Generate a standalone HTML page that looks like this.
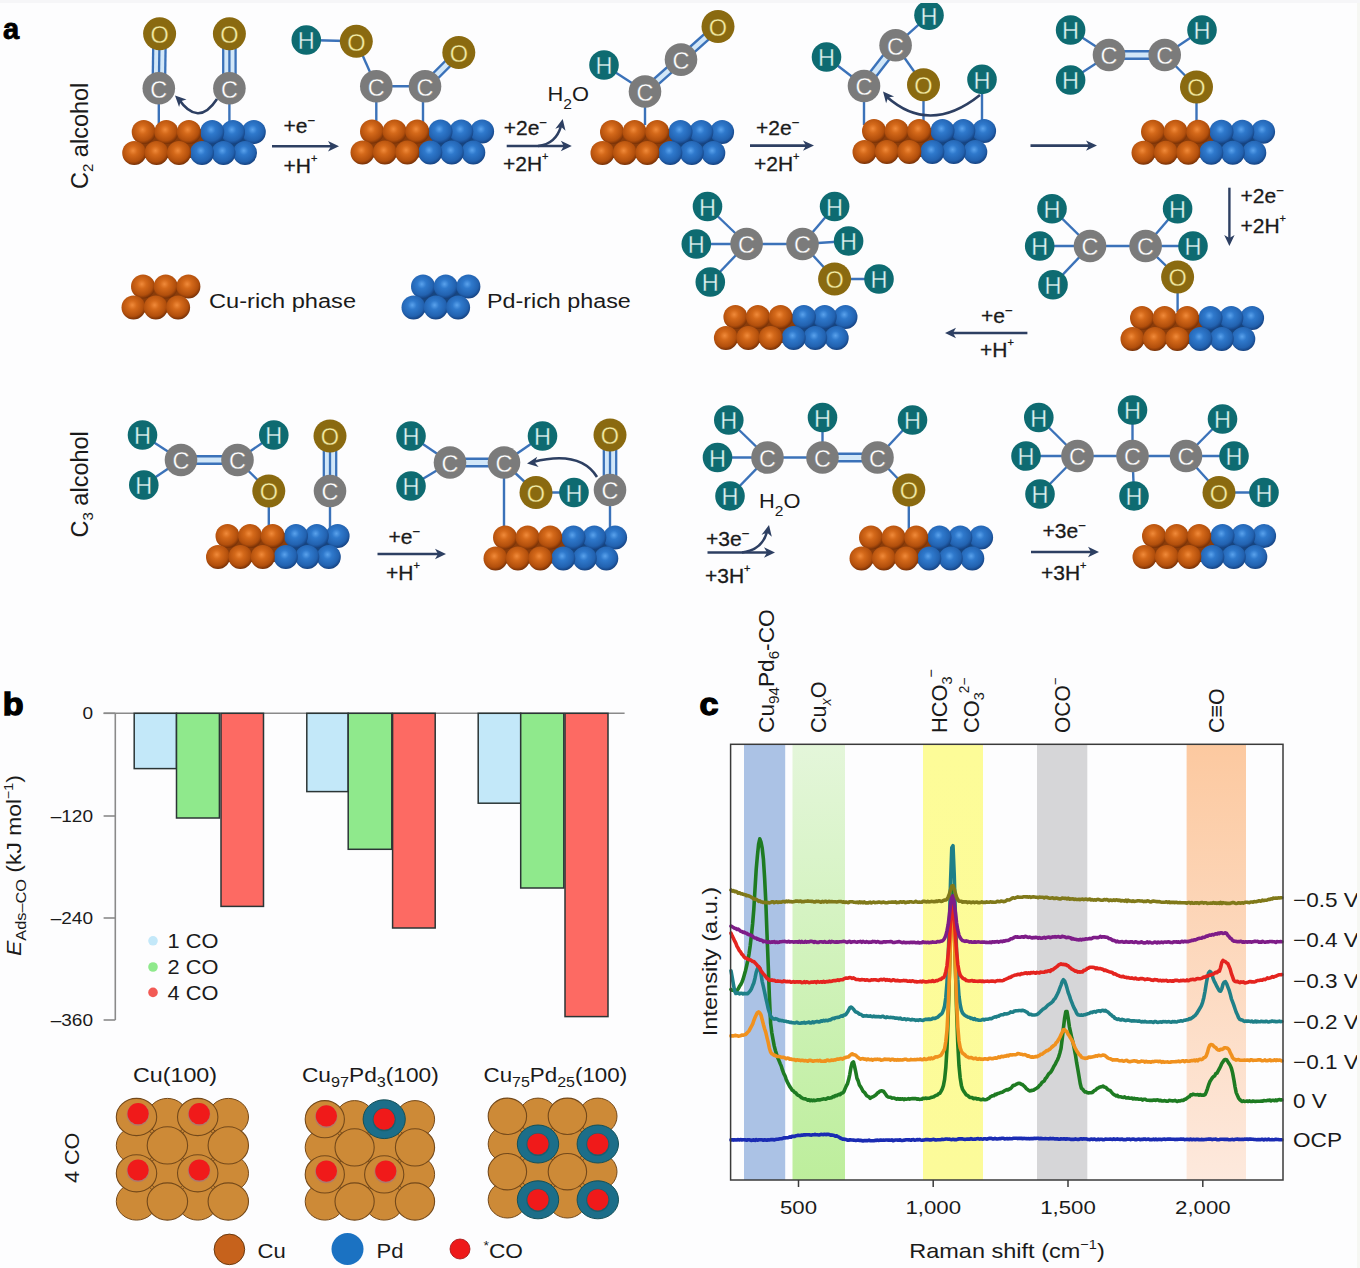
<!DOCTYPE html>
<html><head><meta charset="utf-8"><style>
html,body{margin:0;padding:0;background:#fdfdfe;}
svg{display:block;}
text{font-family:"Liberation Sans", sans-serif;}
</style></head><body>
<svg width="1360" height="1268" viewBox="0 0 1360 1268" font-family='"Liberation Sans", sans-serif'>
<defs><radialGradient id="go" cx="0.45" cy="0.4" r="0.62"><stop offset="0" stop-color="#f08a3a"/><stop offset="0.3" stop-color="#d4691a"/><stop offset="0.75" stop-color="#b24f0c"/><stop offset="1" stop-color="#6e2c06"/></radialGradient><radialGradient id="gb" cx="0.45" cy="0.4" r="0.62"><stop offset="0" stop-color="#5aa2ec"/><stop offset="0.3" stop-color="#2f79cc"/><stop offset="0.75" stop-color="#2262b0"/><stop offset="1" stop-color="#133d7a"/></radialGradient></defs>
<rect width="1360" height="1268" fill="#fdfdfe"/>
<text transform="translate(3.0,38.8) scale(0.97,1)" font-size="30" font-weight="bold" fill="#000" stroke="#000" stroke-width="0.8">a</text>
<text transform="translate(87.5,189) rotate(-90)" font-size="23.5" fill="#1a1a1a">C<tspan font-size="15" dy="5">2</tspan><tspan dy="-5"> alcohol</tspan></text>
<text transform="translate(87.5,537.5) rotate(-90)" font-size="23.5" fill="#1a1a1a">C<tspan font-size="15" dy="5">3</tspan><tspan dy="-5"> alcohol</tspan></text>
<line x1="159.6" y1="33.8" x2="158.8" y2="88.2" stroke="#d2e7f8" stroke-width="12.4"/>
<line x1="165.8" y1="33.9" x2="165.0" y2="88.3" stroke="#3b72b9" stroke-width="2.3"/>
<line x1="159.6" y1="33.8" x2="158.8" y2="88.2" stroke="#3b72b9" stroke-width="2.3"/>
<line x1="153.4" y1="33.7" x2="152.6" y2="88.1" stroke="#3b72b9" stroke-width="2.3"/>
<line x1="229.4" y1="33.8" x2="229.4" y2="88.2" stroke="#d2e7f8" stroke-width="12.4"/>
<line x1="235.6" y1="33.8" x2="235.6" y2="88.2" stroke="#3b72b9" stroke-width="2.3"/>
<line x1="229.4" y1="33.8" x2="229.4" y2="88.2" stroke="#3b72b9" stroke-width="2.3"/>
<line x1="223.2" y1="33.8" x2="223.2" y2="88.2" stroke="#3b72b9" stroke-width="2.3"/>
<line x1="158.8" y1="88.0" x2="158.8" y2="125.0" stroke="#3b72b9" stroke-width="2.4"/>
<line x1="229.4" y1="88.0" x2="229.4" y2="125.0" stroke="#3b72b9" stroke-width="2.4"/>
<polygon points="143.7,129.0 212.2,129.0 202.0,158.0 134.2,158.0" fill="#8a3c0a"/>
<polygon points="208.2,129.0 253.8,129.0 245.0,158.0 198.0,158.0" fill="#17457f"/>
<circle cx="253.8" cy="132.0" r="12.0" fill="url(#gb)"/>
<circle cx="233.0" cy="132.0" r="12.0" fill="url(#gb)"/>
<circle cx="212.2" cy="132.0" r="12.0" fill="url(#gb)"/>
<circle cx="143.7" cy="132.0" r="12.0" fill="url(#go)"/>
<circle cx="166.3" cy="132.0" r="12.0" fill="url(#go)"/>
<circle cx="188.9" cy="132.0" r="12.0" fill="url(#go)"/>
<circle cx="245.0" cy="153.0" r="12.0" fill="url(#gb)"/>
<circle cx="223.5" cy="153.0" r="12.0" fill="url(#gb)"/>
<circle cx="202.0" cy="153.0" r="12.0" fill="url(#gb)"/>
<circle cx="134.2" cy="153.0" r="12.0" fill="url(#go)"/>
<circle cx="156.6" cy="153.0" r="12.0" fill="url(#go)"/>
<circle cx="179.0" cy="153.0" r="12.0" fill="url(#go)"/>
<circle cx="159.6" cy="33.8" r="16.5" fill="#8a6a10"/>
<text x="159.6" y="43.2" font-size="23.5" fill="#f4eca4" stroke="#8a6a10" stroke-width="0.35" text-anchor="middle">O</text>
<circle cx="229.4" cy="33.8" r="16.5" fill="#8a6a10"/>
<text x="229.4" y="43.2" font-size="23.5" fill="#f4eca4" stroke="#8a6a10" stroke-width="0.35" text-anchor="middle">O</text>
<circle cx="158.8" cy="88.2" r="16.3" fill="#7b7b7b"/>
<text x="158.8" y="97.6" font-size="23.5" fill="#ffffff" stroke="#7b7b7b" stroke-width="0.35" text-anchor="middle">C</text>
<circle cx="229.4" cy="88.2" r="16.3" fill="#7b7b7b"/>
<text x="229.4" y="97.6" font-size="23.5" fill="#ffffff" stroke="#7b7b7b" stroke-width="0.35" text-anchor="middle">C</text>
<path d="M217,99 Q198,128 178,98" fill="none" stroke="#2d3f62" stroke-width="2.6"/>
<polygon points="175.0,95.5 186.5,99.6 180.7,101.2 179.1,107.0" fill="#2d3f62"/>
<line x1="272.0" y1="146.2" x2="333.0" y2="146.2" stroke="#2d3f62" stroke-width="2.6"/>
<polygon points="339.0,146.2 328.0,151.4 331.0,146.2 328.0,141.0" fill="#2d3f62"/>
<text transform="translate(283.5,132.7)" font-size="21" fill="#1a1a1a" text-anchor="start" stroke="#1a1a1a" stroke-width="0.3">+e<tspan font-size="13" dy="-8">−</tspan></text>
<text transform="translate(283.5,172.8)" font-size="21" fill="#1a1a1a" text-anchor="start" stroke="#1a1a1a" stroke-width="0.3">+H<tspan font-size="11" dy="-11">+</tspan></text>
<line x1="306.3" y1="40.0" x2="356.3" y2="41.3" stroke="#3b72b9" stroke-width="2.4"/>
<line x1="356.3" y1="41.3" x2="376.3" y2="86.3" stroke="#3b72b9" stroke-width="2.4"/>
<line x1="376.3" y1="86.3" x2="425.0" y2="86.3" stroke="#3b72b9" stroke-width="2.4"/>
<line x1="425.0" y1="86.3" x2="458.8" y2="52.5" stroke="#d2e7f8" stroke-width="7"/>
<line x1="422.5" y1="83.8" x2="456.3" y2="50.0" stroke="#3b72b9" stroke-width="2.4"/>
<line x1="427.5" y1="88.8" x2="461.3" y2="55.0" stroke="#3b72b9" stroke-width="2.4"/>
<line x1="376.3" y1="86.0" x2="376.3" y2="125.0" stroke="#3b72b9" stroke-width="2.4"/>
<line x1="423.0" y1="86.0" x2="423.0" y2="125.0" stroke="#3b72b9" stroke-width="2.4"/>
<polygon points="372.0,128.5 440.5,128.5 430.3,157.5 362.5,157.5" fill="#8a3c0a"/>
<polygon points="436.5,128.5 482.1,128.5 473.3,157.5 426.3,157.5" fill="#17457f"/>
<circle cx="482.1" cy="131.5" r="12.0" fill="url(#gb)"/>
<circle cx="461.3" cy="131.5" r="12.0" fill="url(#gb)"/>
<circle cx="440.5" cy="131.5" r="12.0" fill="url(#gb)"/>
<circle cx="372.0" cy="131.5" r="12.0" fill="url(#go)"/>
<circle cx="394.6" cy="131.5" r="12.0" fill="url(#go)"/>
<circle cx="417.2" cy="131.5" r="12.0" fill="url(#go)"/>
<circle cx="473.3" cy="152.5" r="12.0" fill="url(#gb)"/>
<circle cx="451.8" cy="152.5" r="12.0" fill="url(#gb)"/>
<circle cx="430.3" cy="152.5" r="12.0" fill="url(#gb)"/>
<circle cx="362.5" cy="152.5" r="12.0" fill="url(#go)"/>
<circle cx="384.9" cy="152.5" r="12.0" fill="url(#go)"/>
<circle cx="407.3" cy="152.5" r="12.0" fill="url(#go)"/>
<circle cx="306.3" cy="40.0" r="14.8" fill="#0e6b71"/>
<text x="306.3" y="49.4" font-size="23.5" fill="#def4f1" stroke="#0e6b71" stroke-width="0.35" text-anchor="middle">H</text>
<circle cx="356.3" cy="41.3" r="16.5" fill="#8a6a10"/>
<text x="356.3" y="50.7" font-size="23.5" fill="#f4eca4" stroke="#8a6a10" stroke-width="0.35" text-anchor="middle">O</text>
<circle cx="376.3" cy="86.3" r="16.3" fill="#7b7b7b"/>
<text x="376.3" y="95.7" font-size="23.5" fill="#ffffff" stroke="#7b7b7b" stroke-width="0.35" text-anchor="middle">C</text>
<circle cx="425.0" cy="86.3" r="16.3" fill="#7b7b7b"/>
<text x="425.0" y="95.7" font-size="23.5" fill="#ffffff" stroke="#7b7b7b" stroke-width="0.35" text-anchor="middle">C</text>
<circle cx="458.8" cy="52.5" r="16.5" fill="#8a6a10"/>
<text x="458.8" y="61.9" font-size="23.5" fill="#f4eca4" stroke="#8a6a10" stroke-width="0.35" text-anchor="middle">O</text>
<line x1="506.7" y1="146.0" x2="565.8" y2="146.0" stroke="#2d3f62" stroke-width="2.6"/>
<polygon points="571.8,146.0 560.8,151.2 563.8,146.0 560.8,140.8" fill="#2d3f62"/>
<path d="M538,146 Q556,144 561,126" fill="none" stroke="#2d3f62" stroke-width="2.6"/>
<polygon points="562.7,119.0 565.5,130.8 561.0,126.8 555.3,128.7" fill="#2d3f62"/>
<text transform="translate(503.7,134.7)" font-size="21" fill="#1a1a1a" text-anchor="start" stroke="#1a1a1a" stroke-width="0.3">+2e<tspan font-size="13" dy="-8">−</tspan></text>
<text transform="translate(503.0,171.0)" font-size="21" fill="#1a1a1a" text-anchor="start" stroke="#1a1a1a" stroke-width="0.3">+2H<tspan font-size="11" dy="-11">+</tspan></text>
<text transform="translate(547.5,101.0) scale(1.040,1)" font-size="21" fill="#1a1a1a" text-anchor="start" >H<tspan font-size="15" dy="8">2</tspan><tspan dy="-8">O</tspan></text>
<line x1="604.0" y1="65.0" x2="645.0" y2="91.5" stroke="#3b72b9" stroke-width="2.4"/>
<line x1="645.0" y1="91.5" x2="681.0" y2="59.6" stroke="#d2e7f8" stroke-width="7"/>
<line x1="642.7" y1="88.9" x2="678.7" y2="57.0" stroke="#3b72b9" stroke-width="2.4"/>
<line x1="647.3" y1="94.1" x2="683.3" y2="62.2" stroke="#3b72b9" stroke-width="2.4"/>
<line x1="681.0" y1="59.6" x2="718.0" y2="26.5" stroke="#d2e7f8" stroke-width="7"/>
<line x1="678.7" y1="57.0" x2="715.7" y2="23.9" stroke="#3b72b9" stroke-width="2.4"/>
<line x1="683.3" y1="62.2" x2="720.3" y2="29.1" stroke="#3b72b9" stroke-width="2.4"/>
<line x1="645.0" y1="91.0" x2="645.0" y2="125.0" stroke="#3b72b9" stroke-width="2.4"/>
<polygon points="612.0,129.0 680.5,129.0 670.3,158.0 602.5,158.0" fill="#8a3c0a"/>
<polygon points="676.5,129.0 722.1,129.0 713.3,158.0 666.3,158.0" fill="#17457f"/>
<circle cx="722.1" cy="132.0" r="12.0" fill="url(#gb)"/>
<circle cx="701.3" cy="132.0" r="12.0" fill="url(#gb)"/>
<circle cx="680.5" cy="132.0" r="12.0" fill="url(#gb)"/>
<circle cx="612.0" cy="132.0" r="12.0" fill="url(#go)"/>
<circle cx="634.6" cy="132.0" r="12.0" fill="url(#go)"/>
<circle cx="657.2" cy="132.0" r="12.0" fill="url(#go)"/>
<circle cx="713.3" cy="153.0" r="12.0" fill="url(#gb)"/>
<circle cx="691.8" cy="153.0" r="12.0" fill="url(#gb)"/>
<circle cx="670.3" cy="153.0" r="12.0" fill="url(#gb)"/>
<circle cx="602.5" cy="153.0" r="12.0" fill="url(#go)"/>
<circle cx="624.9" cy="153.0" r="12.0" fill="url(#go)"/>
<circle cx="647.3" cy="153.0" r="12.0" fill="url(#go)"/>
<circle cx="604.0" cy="65.0" r="14.8" fill="#0e6b71"/>
<text x="604.0" y="74.4" font-size="23.5" fill="#def4f1" stroke="#0e6b71" stroke-width="0.35" text-anchor="middle">H</text>
<circle cx="645.0" cy="91.5" r="16.3" fill="#7b7b7b"/>
<text x="645.0" y="100.9" font-size="23.5" fill="#ffffff" stroke="#7b7b7b" stroke-width="0.35" text-anchor="middle">C</text>
<circle cx="681.0" cy="59.6" r="16.3" fill="#7b7b7b"/>
<text x="681.0" y="69.0" font-size="23.5" fill="#ffffff" stroke="#7b7b7b" stroke-width="0.35" text-anchor="middle">C</text>
<circle cx="718.0" cy="26.5" r="16.5" fill="#8a6a10"/>
<text x="718.0" y="35.9" font-size="23.5" fill="#f4eca4" stroke="#8a6a10" stroke-width="0.35" text-anchor="middle">O</text>
<line x1="750.0" y1="145.6" x2="808.0" y2="145.6" stroke="#2d3f62" stroke-width="2.6"/>
<polygon points="814.0,145.6 803.0,150.8 806.0,145.6 803.0,140.4" fill="#2d3f62"/>
<text transform="translate(756.0,134.6)" font-size="21" fill="#1a1a1a" text-anchor="start" stroke="#1a1a1a" stroke-width="0.3">+2e<tspan font-size="13" dy="-8">−</tspan></text>
<text transform="translate(754.0,171.0)" font-size="21" fill="#1a1a1a" text-anchor="start" stroke="#1a1a1a" stroke-width="0.3">+2H<tspan font-size="11" dy="-11">+</tspan></text>
<line x1="826.5" y1="57.0" x2="864.0" y2="86.0" stroke="#3b72b9" stroke-width="2.4"/>
<line x1="864.0" y1="86.0" x2="895.6" y2="45.3" stroke="#d2e7f8" stroke-width="7.5"/>
<line x1="861.0" y1="83.7" x2="892.6" y2="43.0" stroke="#3b72b9" stroke-width="2.4"/>
<line x1="867.0" y1="88.3" x2="898.6" y2="47.6" stroke="#3b72b9" stroke-width="2.4"/>
<line x1="895.6" y1="45.3" x2="929.0" y2="15.3" stroke="#3b72b9" stroke-width="2.4"/>
<line x1="895.6" y1="45.3" x2="923.5" y2="84.7" stroke="#3b72b9" stroke-width="2.4"/>
<line x1="864.0" y1="86.0" x2="864.0" y2="125.0" stroke="#3b72b9" stroke-width="2.4"/>
<line x1="923.5" y1="85.0" x2="923.5" y2="125.0" stroke="#3b72b9" stroke-width="2.4"/>
<line x1="982.0" y1="80.0" x2="982.0" y2="125.0" stroke="#3b72b9" stroke-width="2.4"/>
<polygon points="874.0,128.0 942.5,128.0 932.3,157.0 864.5,157.0" fill="#8a3c0a"/>
<polygon points="938.5,128.0 984.1,128.0 975.3,157.0 928.3,157.0" fill="#17457f"/>
<circle cx="984.1" cy="131.0" r="12.0" fill="url(#gb)"/>
<circle cx="963.3" cy="131.0" r="12.0" fill="url(#gb)"/>
<circle cx="942.5" cy="131.0" r="12.0" fill="url(#gb)"/>
<circle cx="874.0" cy="131.0" r="12.0" fill="url(#go)"/>
<circle cx="896.6" cy="131.0" r="12.0" fill="url(#go)"/>
<circle cx="919.2" cy="131.0" r="12.0" fill="url(#go)"/>
<circle cx="975.3" cy="152.0" r="12.0" fill="url(#gb)"/>
<circle cx="953.8" cy="152.0" r="12.0" fill="url(#gb)"/>
<circle cx="932.3" cy="152.0" r="12.0" fill="url(#gb)"/>
<circle cx="864.5" cy="152.0" r="12.0" fill="url(#go)"/>
<circle cx="886.9" cy="152.0" r="12.0" fill="url(#go)"/>
<circle cx="909.3" cy="152.0" r="12.0" fill="url(#go)"/>
<circle cx="826.5" cy="57.0" r="14.8" fill="#0e6b71"/>
<text x="826.5" y="66.4" font-size="23.5" fill="#def4f1" stroke="#0e6b71" stroke-width="0.35" text-anchor="middle">H</text>
<circle cx="864.0" cy="86.0" r="16.3" fill="#7b7b7b"/>
<text x="864.0" y="95.4" font-size="23.5" fill="#ffffff" stroke="#7b7b7b" stroke-width="0.35" text-anchor="middle">C</text>
<circle cx="895.6" cy="45.3" r="16.3" fill="#7b7b7b"/>
<text x="895.6" y="54.7" font-size="23.5" fill="#ffffff" stroke="#7b7b7b" stroke-width="0.35" text-anchor="middle">C</text>
<circle cx="929.0" cy="15.3" r="14.8" fill="#0e6b71"/>
<text x="929.0" y="24.7" font-size="23.5" fill="#def4f1" stroke="#0e6b71" stroke-width="0.35" text-anchor="middle">H</text>
<circle cx="923.5" cy="84.7" r="16.5" fill="#8a6a10"/>
<text x="923.5" y="94.1" font-size="23.5" fill="#f4eca4" stroke="#8a6a10" stroke-width="0.35" text-anchor="middle">O</text>
<circle cx="982.0" cy="79.4" r="14.8" fill="#0e6b71"/>
<text x="982.0" y="88.8" font-size="23.5" fill="#def4f1" stroke="#0e6b71" stroke-width="0.35" text-anchor="middle">H</text>
<path d="M980,95 Q930,135 887,97" fill="none" stroke="#2d3f62" stroke-width="2.6"/>
<polygon points="883.0,91.5 894.1,96.6 888.1,97.6 886.1,103.3" fill="#2d3f62"/>
<line x1="1030.5" y1="145.6" x2="1091.0" y2="145.6" stroke="#2d3f62" stroke-width="2.6"/>
<polygon points="1097.0,145.6 1086.0,150.8 1089.0,145.6 1086.0,140.4" fill="#2d3f62"/>
<line x1="1070.6" y1="30.0" x2="1109.0" y2="55.0" stroke="#3b72b9" stroke-width="2.4"/>
<line x1="1070.6" y1="80.0" x2="1109.0" y2="55.0" stroke="#3b72b9" stroke-width="2.4"/>
<line x1="1109.0" y1="55.0" x2="1164.7" y2="55.0" stroke="#d2e7f8" stroke-width="7.5"/>
<line x1="1109.0" y1="51.2" x2="1164.7" y2="51.2" stroke="#3b72b9" stroke-width="2.4"/>
<line x1="1109.0" y1="58.8" x2="1164.7" y2="58.8" stroke="#3b72b9" stroke-width="2.4"/>
<line x1="1164.7" y1="55.0" x2="1202.0" y2="30.0" stroke="#3b72b9" stroke-width="2.4"/>
<line x1="1164.7" y1="55.0" x2="1196.5" y2="87.0" stroke="#3b72b9" stroke-width="2.4"/>
<line x1="1196.5" y1="87.0" x2="1196.5" y2="125.0" stroke="#3b72b9" stroke-width="2.4"/>
<polygon points="1153.0,128.8 1221.5,128.8 1211.3,157.8 1143.5,157.8" fill="#8a3c0a"/>
<polygon points="1217.5,128.8 1263.1,128.8 1254.3,157.8 1207.3,157.8" fill="#17457f"/>
<circle cx="1263.1" cy="131.8" r="12.0" fill="url(#gb)"/>
<circle cx="1242.3" cy="131.8" r="12.0" fill="url(#gb)"/>
<circle cx="1221.5" cy="131.8" r="12.0" fill="url(#gb)"/>
<circle cx="1153.0" cy="131.8" r="12.0" fill="url(#go)"/>
<circle cx="1175.6" cy="131.8" r="12.0" fill="url(#go)"/>
<circle cx="1198.2" cy="131.8" r="12.0" fill="url(#go)"/>
<circle cx="1254.3" cy="152.8" r="12.0" fill="url(#gb)"/>
<circle cx="1232.8" cy="152.8" r="12.0" fill="url(#gb)"/>
<circle cx="1211.3" cy="152.8" r="12.0" fill="url(#gb)"/>
<circle cx="1143.5" cy="152.8" r="12.0" fill="url(#go)"/>
<circle cx="1165.9" cy="152.8" r="12.0" fill="url(#go)"/>
<circle cx="1188.3" cy="152.8" r="12.0" fill="url(#go)"/>
<circle cx="1070.6" cy="30.0" r="14.8" fill="#0e6b71"/>
<text x="1070.6" y="39.4" font-size="23.5" fill="#def4f1" stroke="#0e6b71" stroke-width="0.35" text-anchor="middle">H</text>
<circle cx="1070.6" cy="80.0" r="14.8" fill="#0e6b71"/>
<text x="1070.6" y="89.4" font-size="23.5" fill="#def4f1" stroke="#0e6b71" stroke-width="0.35" text-anchor="middle">H</text>
<circle cx="1109.0" cy="55.0" r="16.3" fill="#7b7b7b"/>
<text x="1109.0" y="64.4" font-size="23.5" fill="#ffffff" stroke="#7b7b7b" stroke-width="0.35" text-anchor="middle">C</text>
<circle cx="1164.7" cy="55.0" r="16.3" fill="#7b7b7b"/>
<text x="1164.7" y="64.4" font-size="23.5" fill="#ffffff" stroke="#7b7b7b" stroke-width="0.35" text-anchor="middle">C</text>
<circle cx="1202.0" cy="30.0" r="14.8" fill="#0e6b71"/>
<text x="1202.0" y="39.4" font-size="23.5" fill="#def4f1" stroke="#0e6b71" stroke-width="0.35" text-anchor="middle">H</text>
<circle cx="1196.5" cy="87.0" r="16.5" fill="#8a6a10"/>
<text x="1196.5" y="96.4" font-size="23.5" fill="#f4eca4" stroke="#8a6a10" stroke-width="0.35" text-anchor="middle">O</text>
<line x1="1229.4" y1="187.7" x2="1229.4" y2="240.0" stroke="#2d3f62" stroke-width="2.4"/>
<polygon points="1229.4,246.0 1224.2,235.0 1229.4,238.0 1234.6,235.0" fill="#2d3f62"/>
<text transform="translate(1240.5,203.0)" font-size="21" fill="#1a1a1a" text-anchor="start" stroke="#1a1a1a" stroke-width="0.3">+2e<tspan font-size="13" dy="-8">−</tspan></text>
<text transform="translate(1240.5,233.0)" font-size="21" fill="#1a1a1a" text-anchor="start" stroke="#1a1a1a" stroke-width="0.3">+2H<tspan font-size="11" dy="-11">+</tspan></text>
<line x1="1052.0" y1="208.7" x2="1090.0" y2="246.0" stroke="#3b72b9" stroke-width="2.4"/>
<line x1="1039.7" y1="246.0" x2="1090.0" y2="246.0" stroke="#3b72b9" stroke-width="2.4"/>
<line x1="1053.0" y1="284.8" x2="1090.0" y2="246.0" stroke="#3b72b9" stroke-width="2.4"/>
<line x1="1090.0" y1="246.0" x2="1145.6" y2="246.0" stroke="#3b72b9" stroke-width="2.4"/>
<line x1="1145.6" y1="246.0" x2="1177.6" y2="208.7" stroke="#3b72b9" stroke-width="2.4"/>
<line x1="1145.6" y1="246.0" x2="1193.0" y2="246.0" stroke="#3b72b9" stroke-width="2.4"/>
<line x1="1145.6" y1="246.0" x2="1177.6" y2="277.0" stroke="#3b72b9" stroke-width="2.4"/>
<line x1="1177.6" y1="277.0" x2="1177.6" y2="312.0" stroke="#3b72b9" stroke-width="2.4"/>
<polygon points="1142.0,315.0 1210.5,315.0 1200.3,344.0 1132.5,344.0" fill="#8a3c0a"/>
<polygon points="1206.5,315.0 1252.1,315.0 1243.3,344.0 1196.3,344.0" fill="#17457f"/>
<circle cx="1252.1" cy="318.0" r="12.0" fill="url(#gb)"/>
<circle cx="1231.3" cy="318.0" r="12.0" fill="url(#gb)"/>
<circle cx="1210.5" cy="318.0" r="12.0" fill="url(#gb)"/>
<circle cx="1142.0" cy="318.0" r="12.0" fill="url(#go)"/>
<circle cx="1164.6" cy="318.0" r="12.0" fill="url(#go)"/>
<circle cx="1187.2" cy="318.0" r="12.0" fill="url(#go)"/>
<circle cx="1243.3" cy="339.0" r="12.0" fill="url(#gb)"/>
<circle cx="1221.8" cy="339.0" r="12.0" fill="url(#gb)"/>
<circle cx="1200.3" cy="339.0" r="12.0" fill="url(#gb)"/>
<circle cx="1132.5" cy="339.0" r="12.0" fill="url(#go)"/>
<circle cx="1154.9" cy="339.0" r="12.0" fill="url(#go)"/>
<circle cx="1177.3" cy="339.0" r="12.0" fill="url(#go)"/>
<circle cx="1052.0" cy="208.7" r="14.8" fill="#0e6b71"/>
<text x="1052.0" y="218.1" font-size="23.5" fill="#def4f1" stroke="#0e6b71" stroke-width="0.35" text-anchor="middle">H</text>
<circle cx="1039.7" cy="246.0" r="14.8" fill="#0e6b71"/>
<text x="1039.7" y="255.4" font-size="23.5" fill="#def4f1" stroke="#0e6b71" stroke-width="0.35" text-anchor="middle">H</text>
<circle cx="1053.0" cy="284.8" r="14.8" fill="#0e6b71"/>
<text x="1053.0" y="294.2" font-size="23.5" fill="#def4f1" stroke="#0e6b71" stroke-width="0.35" text-anchor="middle">H</text>
<circle cx="1090.0" cy="246.0" r="16.3" fill="#7b7b7b"/>
<text x="1090.0" y="255.4" font-size="23.5" fill="#ffffff" stroke="#7b7b7b" stroke-width="0.35" text-anchor="middle">C</text>
<circle cx="1145.6" cy="246.0" r="16.3" fill="#7b7b7b"/>
<text x="1145.6" y="255.4" font-size="23.5" fill="#ffffff" stroke="#7b7b7b" stroke-width="0.35" text-anchor="middle">C</text>
<circle cx="1177.6" cy="208.7" r="14.8" fill="#0e6b71"/>
<text x="1177.6" y="218.1" font-size="23.5" fill="#def4f1" stroke="#0e6b71" stroke-width="0.35" text-anchor="middle">H</text>
<circle cx="1193.0" cy="246.0" r="14.8" fill="#0e6b71"/>
<text x="1193.0" y="255.4" font-size="23.5" fill="#def4f1" stroke="#0e6b71" stroke-width="0.35" text-anchor="middle">H</text>
<circle cx="1177.6" cy="277.0" r="16.5" fill="#8a6a10"/>
<text x="1177.6" y="286.4" font-size="23.5" fill="#f4eca4" stroke="#8a6a10" stroke-width="0.35" text-anchor="middle">O</text>
<line x1="1027.4" y1="333.0" x2="951.0" y2="333.0" stroke="#2d3f62" stroke-width="2.6"/>
<polygon points="945.0,333.0 956.0,327.8 953.0,333.0 956.0,338.2" fill="#2d3f62"/>
<text transform="translate(981.0,322.5)" font-size="21" fill="#1a1a1a" text-anchor="start" stroke="#1a1a1a" stroke-width="0.3">+e<tspan font-size="13" dy="-8">−</tspan></text>
<text transform="translate(980.0,357.4)" font-size="21" fill="#1a1a1a" text-anchor="start" stroke="#1a1a1a" stroke-width="0.3">+H<tspan font-size="11" dy="-11">+</tspan></text>
<line x1="707.5" y1="206.5" x2="746.6" y2="244.0" stroke="#3b72b9" stroke-width="2.4"/>
<line x1="696.3" y1="244.0" x2="746.6" y2="244.0" stroke="#3b72b9" stroke-width="2.4"/>
<line x1="710.3" y1="282.0" x2="746.6" y2="244.0" stroke="#3b72b9" stroke-width="2.4"/>
<line x1="746.6" y1="244.0" x2="802.5" y2="244.0" stroke="#3b72b9" stroke-width="2.4"/>
<line x1="802.5" y1="244.0" x2="834.6" y2="206.5" stroke="#3b72b9" stroke-width="2.4"/>
<line x1="802.5" y1="244.0" x2="848.6" y2="241.0" stroke="#3b72b9" stroke-width="2.4"/>
<line x1="802.5" y1="244.0" x2="834.6" y2="279.0" stroke="#3b72b9" stroke-width="2.4"/>
<line x1="834.6" y1="279.0" x2="879.0" y2="279.0" stroke="#3b72b9" stroke-width="2.4"/>
<polygon points="735.4,314.0 803.9,314.0 793.7,343.0 725.9,343.0" fill="#8a3c0a"/>
<polygon points="799.9,314.0 845.5,314.0 836.7,343.0 789.7,343.0" fill="#17457f"/>
<circle cx="845.5" cy="317.0" r="12.0" fill="url(#gb)"/>
<circle cx="824.7" cy="317.0" r="12.0" fill="url(#gb)"/>
<circle cx="803.9" cy="317.0" r="12.0" fill="url(#gb)"/>
<circle cx="735.4" cy="317.0" r="12.0" fill="url(#go)"/>
<circle cx="758.0" cy="317.0" r="12.0" fill="url(#go)"/>
<circle cx="780.6" cy="317.0" r="12.0" fill="url(#go)"/>
<circle cx="836.7" cy="338.0" r="12.0" fill="url(#gb)"/>
<circle cx="815.2" cy="338.0" r="12.0" fill="url(#gb)"/>
<circle cx="793.7" cy="338.0" r="12.0" fill="url(#gb)"/>
<circle cx="725.9" cy="338.0" r="12.0" fill="url(#go)"/>
<circle cx="748.3" cy="338.0" r="12.0" fill="url(#go)"/>
<circle cx="770.7" cy="338.0" r="12.0" fill="url(#go)"/>
<circle cx="707.5" cy="206.5" r="14.8" fill="#0e6b71"/>
<text x="707.5" y="215.9" font-size="23.5" fill="#def4f1" stroke="#0e6b71" stroke-width="0.35" text-anchor="middle">H</text>
<circle cx="696.3" cy="244.0" r="14.8" fill="#0e6b71"/>
<text x="696.3" y="253.4" font-size="23.5" fill="#def4f1" stroke="#0e6b71" stroke-width="0.35" text-anchor="middle">H</text>
<circle cx="710.3" cy="282.0" r="14.8" fill="#0e6b71"/>
<text x="710.3" y="291.4" font-size="23.5" fill="#def4f1" stroke="#0e6b71" stroke-width="0.35" text-anchor="middle">H</text>
<circle cx="746.6" cy="244.0" r="16.3" fill="#7b7b7b"/>
<text x="746.6" y="253.4" font-size="23.5" fill="#ffffff" stroke="#7b7b7b" stroke-width="0.35" text-anchor="middle">C</text>
<circle cx="802.5" cy="244.0" r="16.3" fill="#7b7b7b"/>
<text x="802.5" y="253.4" font-size="23.5" fill="#ffffff" stroke="#7b7b7b" stroke-width="0.35" text-anchor="middle">C</text>
<circle cx="834.6" cy="206.5" r="14.8" fill="#0e6b71"/>
<text x="834.6" y="215.9" font-size="23.5" fill="#def4f1" stroke="#0e6b71" stroke-width="0.35" text-anchor="middle">H</text>
<circle cx="848.6" cy="241.0" r="14.8" fill="#0e6b71"/>
<text x="848.6" y="250.4" font-size="23.5" fill="#def4f1" stroke="#0e6b71" stroke-width="0.35" text-anchor="middle">H</text>
<circle cx="834.6" cy="279.0" r="16.5" fill="#8a6a10"/>
<text x="834.6" y="288.4" font-size="23.5" fill="#f4eca4" stroke="#8a6a10" stroke-width="0.35" text-anchor="middle">O</text>
<circle cx="879.0" cy="279.0" r="14.8" fill="#0e6b71"/>
<text x="879.0" y="288.4" font-size="23.5" fill="#def4f1" stroke="#0e6b71" stroke-width="0.35" text-anchor="middle">H</text>
<polygon points="143.0,283.5 188.4,283.5 178.1,312.5 133.5,312.5" fill="#8a3c0a"/>
<circle cx="143.0" cy="286.5" r="12.0" fill="url(#go)"/>
<circle cx="165.7" cy="286.5" r="12.0" fill="url(#go)"/>
<circle cx="188.4" cy="286.5" r="12.0" fill="url(#go)"/>
<circle cx="133.5" cy="307.5" r="12.0" fill="url(#go)"/>
<circle cx="155.8" cy="307.5" r="12.0" fill="url(#go)"/>
<circle cx="178.1" cy="307.5" r="12.0" fill="url(#go)"/>
<polygon points="423.0,283.5 468.4,283.5 458.1,312.5 413.5,312.5" fill="#17457f"/>
<circle cx="423.0" cy="286.5" r="12.0" fill="url(#gb)"/>
<circle cx="445.7" cy="286.5" r="12.0" fill="url(#gb)"/>
<circle cx="468.4" cy="286.5" r="12.0" fill="url(#gb)"/>
<circle cx="413.5" cy="307.5" r="12.0" fill="url(#gb)"/>
<circle cx="435.8" cy="307.5" r="12.0" fill="url(#gb)"/>
<circle cx="458.1" cy="307.5" r="12.0" fill="url(#gb)"/>
<text transform="translate(209.0,308.0) scale(1.125,1)" font-size="21" fill="#1a1a1a" text-anchor="start" >Cu-rich phase</text>
<text transform="translate(487.0,308.0) scale(1.110,1)" font-size="21" fill="#1a1a1a" text-anchor="start" >Pd-rich phase</text>
<line x1="142.5" y1="435.0" x2="181.0" y2="460.0" stroke="#3b72b9" stroke-width="2.4"/>
<line x1="143.8" y1="485.0" x2="181.0" y2="460.0" stroke="#3b72b9" stroke-width="2.4"/>
<line x1="181.0" y1="460.0" x2="237.5" y2="460.0" stroke="#d2e7f8" stroke-width="7.5"/>
<line x1="181.0" y1="456.2" x2="237.5" y2="456.2" stroke="#3b72b9" stroke-width="2.4"/>
<line x1="181.0" y1="463.8" x2="237.5" y2="463.8" stroke="#3b72b9" stroke-width="2.4"/>
<line x1="237.5" y1="460.0" x2="273.8" y2="435.0" stroke="#3b72b9" stroke-width="2.4"/>
<line x1="237.5" y1="460.0" x2="268.8" y2="491.0" stroke="#3b72b9" stroke-width="2.4"/>
<line x1="330.0" y1="436.0" x2="330.0" y2="491.0" stroke="#d2e7f8" stroke-width="12.4"/>
<line x1="336.2" y1="436.0" x2="336.2" y2="491.0" stroke="#3b72b9" stroke-width="2.3"/>
<line x1="330.0" y1="436.0" x2="330.0" y2="491.0" stroke="#3b72b9" stroke-width="2.3"/>
<line x1="323.8" y1="436.0" x2="323.8" y2="491.0" stroke="#3b72b9" stroke-width="2.3"/>
<line x1="268.8" y1="491.0" x2="268.8" y2="530.0" stroke="#3b72b9" stroke-width="2.4"/>
<line x1="330.0" y1="491.0" x2="330.0" y2="530.0" stroke="#3b72b9" stroke-width="2.4"/>
<polygon points="227.5,533.0 296.0,533.0 285.8,562.0 218.0,562.0" fill="#8a3c0a"/>
<polygon points="292.0,533.0 337.6,533.0 328.8,562.0 281.8,562.0" fill="#17457f"/>
<circle cx="337.6" cy="536.0" r="12.0" fill="url(#gb)"/>
<circle cx="316.8" cy="536.0" r="12.0" fill="url(#gb)"/>
<circle cx="296.0" cy="536.0" r="12.0" fill="url(#gb)"/>
<circle cx="227.5" cy="536.0" r="12.0" fill="url(#go)"/>
<circle cx="250.1" cy="536.0" r="12.0" fill="url(#go)"/>
<circle cx="272.7" cy="536.0" r="12.0" fill="url(#go)"/>
<circle cx="328.8" cy="557.0" r="12.0" fill="url(#gb)"/>
<circle cx="307.3" cy="557.0" r="12.0" fill="url(#gb)"/>
<circle cx="285.8" cy="557.0" r="12.0" fill="url(#gb)"/>
<circle cx="218.0" cy="557.0" r="12.0" fill="url(#go)"/>
<circle cx="240.4" cy="557.0" r="12.0" fill="url(#go)"/>
<circle cx="262.8" cy="557.0" r="12.0" fill="url(#go)"/>
<circle cx="142.5" cy="435.0" r="14.8" fill="#0e6b71"/>
<text x="142.5" y="444.4" font-size="23.5" fill="#def4f1" stroke="#0e6b71" stroke-width="0.35" text-anchor="middle">H</text>
<circle cx="143.8" cy="485.0" r="14.8" fill="#0e6b71"/>
<text x="143.8" y="494.4" font-size="23.5" fill="#def4f1" stroke="#0e6b71" stroke-width="0.35" text-anchor="middle">H</text>
<circle cx="181.0" cy="460.0" r="16.3" fill="#7b7b7b"/>
<text x="181.0" y="469.4" font-size="23.5" fill="#ffffff" stroke="#7b7b7b" stroke-width="0.35" text-anchor="middle">C</text>
<circle cx="237.5" cy="460.0" r="16.3" fill="#7b7b7b"/>
<text x="237.5" y="469.4" font-size="23.5" fill="#ffffff" stroke="#7b7b7b" stroke-width="0.35" text-anchor="middle">C</text>
<circle cx="273.8" cy="435.0" r="14.8" fill="#0e6b71"/>
<text x="273.8" y="444.4" font-size="23.5" fill="#def4f1" stroke="#0e6b71" stroke-width="0.35" text-anchor="middle">H</text>
<circle cx="268.8" cy="491.0" r="16.5" fill="#8a6a10"/>
<text x="268.8" y="500.4" font-size="23.5" fill="#f4eca4" stroke="#8a6a10" stroke-width="0.35" text-anchor="middle">O</text>
<circle cx="330.0" cy="436.0" r="16.5" fill="#8a6a10"/>
<text x="330.0" y="445.4" font-size="23.5" fill="#f4eca4" stroke="#8a6a10" stroke-width="0.35" text-anchor="middle">O</text>
<circle cx="330.0" cy="491.0" r="16.3" fill="#7b7b7b"/>
<text x="330.0" y="500.4" font-size="23.5" fill="#ffffff" stroke="#7b7b7b" stroke-width="0.35" text-anchor="middle">C</text>
<line x1="377.5" y1="554.0" x2="440.0" y2="554.0" stroke="#2d3f62" stroke-width="2.6"/>
<polygon points="446.0,554.0 435.0,559.2 438.0,554.0 435.0,548.8" fill="#2d3f62"/>
<text transform="translate(388.5,543.5)" font-size="21" fill="#1a1a1a" text-anchor="start" stroke="#1a1a1a" stroke-width="0.3">+e<tspan font-size="13" dy="-8">−</tspan></text>
<text transform="translate(386.0,580.0)" font-size="21" fill="#1a1a1a" text-anchor="start" stroke="#1a1a1a" stroke-width="0.3">+H<tspan font-size="11" dy="-11">+</tspan></text>
<line x1="411.0" y1="436.0" x2="450.0" y2="462.5" stroke="#3b72b9" stroke-width="2.4"/>
<line x1="411.0" y1="486.0" x2="450.0" y2="462.5" stroke="#3b72b9" stroke-width="2.4"/>
<line x1="450.0" y1="462.5" x2="504.0" y2="462.5" stroke="#d2e7f8" stroke-width="7.5"/>
<line x1="450.0" y1="458.8" x2="504.0" y2="458.8" stroke="#3b72b9" stroke-width="2.4"/>
<line x1="450.0" y1="466.2" x2="504.0" y2="466.2" stroke="#3b72b9" stroke-width="2.4"/>
<line x1="504.0" y1="462.5" x2="542.5" y2="436.0" stroke="#3b72b9" stroke-width="2.4"/>
<line x1="504.0" y1="462.5" x2="536.0" y2="492.5" stroke="#3b72b9" stroke-width="2.4"/>
<line x1="536.0" y1="492.5" x2="574.0" y2="492.5" stroke="#3b72b9" stroke-width="2.4"/>
<line x1="610.0" y1="435.0" x2="610.0" y2="490.0" stroke="#d2e7f8" stroke-width="12.4"/>
<line x1="616.2" y1="435.0" x2="616.2" y2="490.0" stroke="#3b72b9" stroke-width="2.3"/>
<line x1="610.0" y1="435.0" x2="610.0" y2="490.0" stroke="#3b72b9" stroke-width="2.3"/>
<line x1="603.8" y1="435.0" x2="603.8" y2="490.0" stroke="#3b72b9" stroke-width="2.3"/>
<line x1="504.0" y1="462.0" x2="504.0" y2="530.0" stroke="#3b72b9" stroke-width="2.4"/>
<line x1="610.0" y1="490.0" x2="610.0" y2="530.0" stroke="#3b72b9" stroke-width="2.4"/>
<polygon points="505.0,534.5 573.5,534.5 563.3,563.5 495.5,563.5" fill="#8a3c0a"/>
<polygon points="569.5,534.5 615.1,534.5 606.3,563.5 559.3,563.5" fill="#17457f"/>
<circle cx="615.1" cy="537.5" r="12.0" fill="url(#gb)"/>
<circle cx="594.3" cy="537.5" r="12.0" fill="url(#gb)"/>
<circle cx="573.5" cy="537.5" r="12.0" fill="url(#gb)"/>
<circle cx="505.0" cy="537.5" r="12.0" fill="url(#go)"/>
<circle cx="527.6" cy="537.5" r="12.0" fill="url(#go)"/>
<circle cx="550.2" cy="537.5" r="12.0" fill="url(#go)"/>
<circle cx="606.3" cy="558.5" r="12.0" fill="url(#gb)"/>
<circle cx="584.8" cy="558.5" r="12.0" fill="url(#gb)"/>
<circle cx="563.3" cy="558.5" r="12.0" fill="url(#gb)"/>
<circle cx="495.5" cy="558.5" r="12.0" fill="url(#go)"/>
<circle cx="517.9" cy="558.5" r="12.0" fill="url(#go)"/>
<circle cx="540.3" cy="558.5" r="12.0" fill="url(#go)"/>
<circle cx="411.0" cy="436.0" r="14.8" fill="#0e6b71"/>
<text x="411.0" y="445.4" font-size="23.5" fill="#def4f1" stroke="#0e6b71" stroke-width="0.35" text-anchor="middle">H</text>
<circle cx="411.0" cy="486.0" r="14.8" fill="#0e6b71"/>
<text x="411.0" y="495.4" font-size="23.5" fill="#def4f1" stroke="#0e6b71" stroke-width="0.35" text-anchor="middle">H</text>
<circle cx="450.0" cy="462.5" r="16.3" fill="#7b7b7b"/>
<text x="450.0" y="471.9" font-size="23.5" fill="#ffffff" stroke="#7b7b7b" stroke-width="0.35" text-anchor="middle">C</text>
<circle cx="504.0" cy="462.5" r="16.3" fill="#7b7b7b"/>
<text x="504.0" y="471.9" font-size="23.5" fill="#ffffff" stroke="#7b7b7b" stroke-width="0.35" text-anchor="middle">C</text>
<circle cx="542.5" cy="436.0" r="14.8" fill="#0e6b71"/>
<text x="542.5" y="445.4" font-size="23.5" fill="#def4f1" stroke="#0e6b71" stroke-width="0.35" text-anchor="middle">H</text>
<circle cx="536.0" cy="492.5" r="16.5" fill="#8a6a10"/>
<text x="536.0" y="501.9" font-size="23.5" fill="#f4eca4" stroke="#8a6a10" stroke-width="0.35" text-anchor="middle">O</text>
<circle cx="574.0" cy="492.5" r="14.8" fill="#0e6b71"/>
<text x="574.0" y="501.9" font-size="23.5" fill="#def4f1" stroke="#0e6b71" stroke-width="0.35" text-anchor="middle">H</text>
<circle cx="610.0" cy="435.0" r="16.5" fill="#8a6a10"/>
<text x="610.0" y="444.4" font-size="23.5" fill="#f4eca4" stroke="#8a6a10" stroke-width="0.35" text-anchor="middle">O</text>
<circle cx="610.0" cy="490.0" r="16.3" fill="#7b7b7b"/>
<text x="610.0" y="499.4" font-size="23.5" fill="#ffffff" stroke="#7b7b7b" stroke-width="0.35" text-anchor="middle">C</text>
<path d="M597,477 Q580,450 533,462" fill="none" stroke="#2d3f62" stroke-width="2.6"/>
<polygon points="527.0,463.5 537.2,456.8 534.9,462.4 538.6,467.1" fill="#2d3f62"/>
<line x1="707.5" y1="552.5" x2="769.0" y2="552.5" stroke="#2d3f62" stroke-width="2.6"/>
<polygon points="775.0,552.5 764.0,557.7 767.0,552.5 764.0,547.3" fill="#2d3f62"/>
<path d="M742,552.5 Q762,550 767,532" fill="none" stroke="#2d3f62" stroke-width="2.6"/>
<polygon points="769.0,525.0 771.8,536.8 767.3,532.8 761.6,534.7" fill="#2d3f62"/>
<text transform="translate(706.0,546.0)" font-size="21" fill="#1a1a1a" text-anchor="start" stroke="#1a1a1a" stroke-width="0.3">+3e<tspan font-size="13" dy="-8">−</tspan></text>
<text transform="translate(705.0,582.5)" font-size="21" fill="#1a1a1a" text-anchor="start" stroke="#1a1a1a" stroke-width="0.3">+3H<tspan font-size="11" dy="-11">+</tspan></text>
<text transform="translate(759.0,507.7) scale(1.040,1)" font-size="21" fill="#1a1a1a" text-anchor="start" >H<tspan font-size="15" dy="8">2</tspan><tspan dy="-8">O</tspan></text>
<line x1="728.8" y1="420.0" x2="767.5" y2="457.5" stroke="#3b72b9" stroke-width="2.4"/>
<line x1="717.5" y1="457.5" x2="767.5" y2="457.5" stroke="#3b72b9" stroke-width="2.4"/>
<line x1="730.0" y1="496.0" x2="767.5" y2="457.5" stroke="#3b72b9" stroke-width="2.4"/>
<line x1="767.5" y1="457.5" x2="822.5" y2="457.5" stroke="#3b72b9" stroke-width="2.4"/>
<line x1="822.5" y1="457.5" x2="822.5" y2="417.5" stroke="#3b72b9" stroke-width="2.4"/>
<line x1="822.5" y1="457.5" x2="877.5" y2="457.5" stroke="#d2e7f8" stroke-width="7.5"/>
<line x1="822.5" y1="453.8" x2="877.5" y2="453.8" stroke="#3b72b9" stroke-width="2.4"/>
<line x1="822.5" y1="461.2" x2="877.5" y2="461.2" stroke="#3b72b9" stroke-width="2.4"/>
<line x1="877.5" y1="457.5" x2="912.5" y2="420.0" stroke="#3b72b9" stroke-width="2.4"/>
<line x1="877.5" y1="457.5" x2="908.8" y2="490.0" stroke="#3b72b9" stroke-width="2.4"/>
<line x1="908.8" y1="490.0" x2="908.8" y2="530.0" stroke="#3b72b9" stroke-width="2.4"/>
<polygon points="871.0,534.5 939.5,534.5 929.3,563.5 861.5,563.5" fill="#8a3c0a"/>
<polygon points="935.5,534.5 981.1,534.5 972.3,563.5 925.3,563.5" fill="#17457f"/>
<circle cx="981.1" cy="537.5" r="12.0" fill="url(#gb)"/>
<circle cx="960.3" cy="537.5" r="12.0" fill="url(#gb)"/>
<circle cx="939.5" cy="537.5" r="12.0" fill="url(#gb)"/>
<circle cx="871.0" cy="537.5" r="12.0" fill="url(#go)"/>
<circle cx="893.6" cy="537.5" r="12.0" fill="url(#go)"/>
<circle cx="916.2" cy="537.5" r="12.0" fill="url(#go)"/>
<circle cx="972.3" cy="558.5" r="12.0" fill="url(#gb)"/>
<circle cx="950.8" cy="558.5" r="12.0" fill="url(#gb)"/>
<circle cx="929.3" cy="558.5" r="12.0" fill="url(#gb)"/>
<circle cx="861.5" cy="558.5" r="12.0" fill="url(#go)"/>
<circle cx="883.9" cy="558.5" r="12.0" fill="url(#go)"/>
<circle cx="906.3" cy="558.5" r="12.0" fill="url(#go)"/>
<circle cx="728.8" cy="420.0" r="14.8" fill="#0e6b71"/>
<text x="728.8" y="429.4" font-size="23.5" fill="#def4f1" stroke="#0e6b71" stroke-width="0.35" text-anchor="middle">H</text>
<circle cx="717.5" cy="457.5" r="14.8" fill="#0e6b71"/>
<text x="717.5" y="466.9" font-size="23.5" fill="#def4f1" stroke="#0e6b71" stroke-width="0.35" text-anchor="middle">H</text>
<circle cx="730.0" cy="496.0" r="14.8" fill="#0e6b71"/>
<text x="730.0" y="505.4" font-size="23.5" fill="#def4f1" stroke="#0e6b71" stroke-width="0.35" text-anchor="middle">H</text>
<circle cx="767.5" cy="457.5" r="16.3" fill="#7b7b7b"/>
<text x="767.5" y="466.9" font-size="23.5" fill="#ffffff" stroke="#7b7b7b" stroke-width="0.35" text-anchor="middle">C</text>
<circle cx="822.5" cy="457.5" r="16.3" fill="#7b7b7b"/>
<text x="822.5" y="466.9" font-size="23.5" fill="#ffffff" stroke="#7b7b7b" stroke-width="0.35" text-anchor="middle">C</text>
<circle cx="822.5" cy="417.5" r="14.8" fill="#0e6b71"/>
<text x="822.5" y="426.9" font-size="23.5" fill="#def4f1" stroke="#0e6b71" stroke-width="0.35" text-anchor="middle">H</text>
<circle cx="877.5" cy="457.5" r="16.3" fill="#7b7b7b"/>
<text x="877.5" y="466.9" font-size="23.5" fill="#ffffff" stroke="#7b7b7b" stroke-width="0.35" text-anchor="middle">C</text>
<circle cx="912.5" cy="420.0" r="14.8" fill="#0e6b71"/>
<text x="912.5" y="429.4" font-size="23.5" fill="#def4f1" stroke="#0e6b71" stroke-width="0.35" text-anchor="middle">H</text>
<circle cx="908.8" cy="490.0" r="16.5" fill="#8a6a10"/>
<text x="908.8" y="499.4" font-size="23.5" fill="#f4eca4" stroke="#8a6a10" stroke-width="0.35" text-anchor="middle">O</text>
<line x1="1031.0" y1="552.0" x2="1093.0" y2="552.0" stroke="#2d3f62" stroke-width="2.6"/>
<polygon points="1099.0,552.0 1088.0,557.2 1091.0,552.0 1088.0,546.8" fill="#2d3f62"/>
<text transform="translate(1042.5,537.5)" font-size="21" fill="#1a1a1a" text-anchor="start" stroke="#1a1a1a" stroke-width="0.3">+3e<tspan font-size="13" dy="-8">−</tspan></text>
<text transform="translate(1041.0,580.0)" font-size="21" fill="#1a1a1a" text-anchor="start" stroke="#1a1a1a" stroke-width="0.3">+3H<tspan font-size="11" dy="-11">+</tspan></text>
<line x1="1038.8" y1="417.5" x2="1077.5" y2="456.0" stroke="#3b72b9" stroke-width="2.4"/>
<line x1="1026.0" y1="456.0" x2="1077.5" y2="456.0" stroke="#3b72b9" stroke-width="2.4"/>
<line x1="1040.0" y1="494.0" x2="1077.5" y2="456.0" stroke="#3b72b9" stroke-width="2.4"/>
<line x1="1077.5" y1="456.0" x2="1132.5" y2="456.0" stroke="#3b72b9" stroke-width="2.4"/>
<line x1="1132.5" y1="456.0" x2="1132.5" y2="410.0" stroke="#3b72b9" stroke-width="2.4"/>
<line x1="1132.5" y1="456.0" x2="1134.0" y2="496.0" stroke="#3b72b9" stroke-width="2.4"/>
<line x1="1132.5" y1="456.0" x2="1186.0" y2="456.0" stroke="#3b72b9" stroke-width="2.4"/>
<line x1="1186.0" y1="456.0" x2="1222.5" y2="419.0" stroke="#3b72b9" stroke-width="2.4"/>
<line x1="1186.0" y1="456.0" x2="1234.0" y2="456.0" stroke="#3b72b9" stroke-width="2.4"/>
<line x1="1186.0" y1="456.0" x2="1219.0" y2="492.5" stroke="#3b72b9" stroke-width="2.4"/>
<line x1="1219.0" y1="492.5" x2="1264.0" y2="492.5" stroke="#3b72b9" stroke-width="2.4"/>
<polygon points="1154.0,533.0 1222.5,533.0 1212.3,562.0 1144.5,562.0" fill="#8a3c0a"/>
<polygon points="1218.5,533.0 1264.1,533.0 1255.3,562.0 1208.3,562.0" fill="#17457f"/>
<circle cx="1264.1" cy="536.0" r="12.0" fill="url(#gb)"/>
<circle cx="1243.3" cy="536.0" r="12.0" fill="url(#gb)"/>
<circle cx="1222.5" cy="536.0" r="12.0" fill="url(#gb)"/>
<circle cx="1154.0" cy="536.0" r="12.0" fill="url(#go)"/>
<circle cx="1176.6" cy="536.0" r="12.0" fill="url(#go)"/>
<circle cx="1199.2" cy="536.0" r="12.0" fill="url(#go)"/>
<circle cx="1255.3" cy="557.0" r="12.0" fill="url(#gb)"/>
<circle cx="1233.8" cy="557.0" r="12.0" fill="url(#gb)"/>
<circle cx="1212.3" cy="557.0" r="12.0" fill="url(#gb)"/>
<circle cx="1144.5" cy="557.0" r="12.0" fill="url(#go)"/>
<circle cx="1166.9" cy="557.0" r="12.0" fill="url(#go)"/>
<circle cx="1189.3" cy="557.0" r="12.0" fill="url(#go)"/>
<circle cx="1038.8" cy="417.5" r="14.8" fill="#0e6b71"/>
<text x="1038.8" y="426.9" font-size="23.5" fill="#def4f1" stroke="#0e6b71" stroke-width="0.35" text-anchor="middle">H</text>
<circle cx="1026.0" cy="456.0" r="14.8" fill="#0e6b71"/>
<text x="1026.0" y="465.4" font-size="23.5" fill="#def4f1" stroke="#0e6b71" stroke-width="0.35" text-anchor="middle">H</text>
<circle cx="1040.0" cy="494.0" r="14.8" fill="#0e6b71"/>
<text x="1040.0" y="503.4" font-size="23.5" fill="#def4f1" stroke="#0e6b71" stroke-width="0.35" text-anchor="middle">H</text>
<circle cx="1077.5" cy="456.0" r="16.3" fill="#7b7b7b"/>
<text x="1077.5" y="465.4" font-size="23.5" fill="#ffffff" stroke="#7b7b7b" stroke-width="0.35" text-anchor="middle">C</text>
<circle cx="1132.5" cy="456.0" r="16.3" fill="#7b7b7b"/>
<text x="1132.5" y="465.4" font-size="23.5" fill="#ffffff" stroke="#7b7b7b" stroke-width="0.35" text-anchor="middle">C</text>
<circle cx="1132.5" cy="410.0" r="14.8" fill="#0e6b71"/>
<text x="1132.5" y="419.4" font-size="23.5" fill="#def4f1" stroke="#0e6b71" stroke-width="0.35" text-anchor="middle">H</text>
<circle cx="1134.0" cy="496.0" r="14.8" fill="#0e6b71"/>
<text x="1134.0" y="505.4" font-size="23.5" fill="#def4f1" stroke="#0e6b71" stroke-width="0.35" text-anchor="middle">H</text>
<circle cx="1186.0" cy="456.0" r="16.3" fill="#7b7b7b"/>
<text x="1186.0" y="465.4" font-size="23.5" fill="#ffffff" stroke="#7b7b7b" stroke-width="0.35" text-anchor="middle">C</text>
<circle cx="1222.5" cy="419.0" r="14.8" fill="#0e6b71"/>
<text x="1222.5" y="428.4" font-size="23.5" fill="#def4f1" stroke="#0e6b71" stroke-width="0.35" text-anchor="middle">H</text>
<circle cx="1234.0" cy="456.0" r="14.8" fill="#0e6b71"/>
<text x="1234.0" y="465.4" font-size="23.5" fill="#def4f1" stroke="#0e6b71" stroke-width="0.35" text-anchor="middle">H</text>
<circle cx="1219.0" cy="492.5" r="16.5" fill="#8a6a10"/>
<text x="1219.0" y="501.9" font-size="23.5" fill="#f4eca4" stroke="#8a6a10" stroke-width="0.35" text-anchor="middle">O</text>
<circle cx="1264.0" cy="492.5" r="14.8" fill="#0e6b71"/>
<text x="1264.0" y="501.9" font-size="23.5" fill="#def4f1" stroke="#0e6b71" stroke-width="0.35" text-anchor="middle">H</text>
<text transform="translate(2.7,714.6) scale(1.1,1)" font-size="31" font-weight="bold" fill="#000" stroke="#000" stroke-width="1.3">b</text>
<line x1="103.6" y1="713.3" x2="624.6" y2="713.3" stroke="#8a8a8a" stroke-width="1.6"/>
<line x1="115.3" y1="713.3" x2="115.3" y2="1020.0" stroke="#8a8a8a" stroke-width="1.6"/>
<line x1="103.6" y1="713.3" x2="115.3" y2="713.3" stroke="#8a8a8a" stroke-width="1.6"/>
<text transform="translate(93.0,719.3) scale(1.120,1)" font-size="17" fill="#1a1a1a" text-anchor="end" >0</text>
<line x1="103.6" y1="816.0" x2="115.3" y2="816.0" stroke="#8a8a8a" stroke-width="1.6"/>
<text transform="translate(93.0,822.0) scale(1.120,1)" font-size="17" fill="#1a1a1a" text-anchor="end" >–120</text>
<line x1="103.6" y1="918.0" x2="115.3" y2="918.0" stroke="#8a8a8a" stroke-width="1.6"/>
<text transform="translate(93.0,924.0) scale(1.120,1)" font-size="17" fill="#1a1a1a" text-anchor="end" >–240</text>
<line x1="103.6" y1="1020.0" x2="115.3" y2="1020.0" stroke="#8a8a8a" stroke-width="1.6"/>
<text transform="translate(93.0,1026.0) scale(1.120,1)" font-size="17" fill="#1a1a1a" text-anchor="end" >–360</text>
<rect x="134.2" y="713.3" width="42.3" height="55.3" fill="#c3e8f9" stroke="#2b3535" stroke-width="1.5"/>
<rect x="176.5" y="713.3" width="42.9" height="104.7" fill="#8fe98c" stroke="#2b3535" stroke-width="1.5"/>
<rect x="221.0" y="713.3" width="42.5" height="193.1" fill="#fd6a63" stroke="#2b3535" stroke-width="1.5"/>
<rect x="306.8" y="713.3" width="41.4" height="78.3" fill="#c3e8f9" stroke="#2b3535" stroke-width="1.5"/>
<rect x="348.2" y="713.3" width="43.6" height="136.0" fill="#8fe98c" stroke="#2b3535" stroke-width="1.5"/>
<rect x="392.6" y="713.3" width="42.6" height="214.7" fill="#fd6a63" stroke="#2b3535" stroke-width="1.5"/>
<rect x="478.2" y="713.3" width="42.5" height="89.9" fill="#c3e8f9" stroke="#2b3535" stroke-width="1.5"/>
<rect x="520.7" y="713.3" width="43.1" height="174.7" fill="#8fe98c" stroke="#2b3535" stroke-width="1.5"/>
<rect x="565.0" y="713.3" width="43.0" height="303.3" fill="#fd6a63" stroke="#2b3535" stroke-width="1.5"/>
<circle cx="153" cy="940.8" r="4.8" fill="#c3e8f9"/>
<text transform="translate(167.5,948.1) scale(1.090,1)" font-size="20" fill="#1a1a1a" text-anchor="start" >1 CO</text>
<circle cx="153" cy="967" r="4.8" fill="#8fe98c"/>
<text transform="translate(167.5,974.3) scale(1.090,1)" font-size="20" fill="#1a1a1a" text-anchor="start" >2 CO</text>
<circle cx="153" cy="992.4" r="4.8" fill="#f25a55"/>
<text transform="translate(167.5,999.7) scale(1.090,1)" font-size="20" fill="#1a1a1a" text-anchor="start" >4 CO</text>
<text transform="translate(20.5,956.0) rotate(-90) scale(1.090,1)" font-size="21" fill="#1a1a1a" text-anchor="start" ><tspan font-style="italic">E</tspan><tspan font-size="15" dy="5">Ads–CO</tspan><tspan dy="-5"> (kJ mol</tspan><tspan font-size="13" dy="-8">−1</tspan><tspan dy="8">)</tspan></text>
<rect x="136.5" y="1117.0" width="91.8" height="84.5" fill="#cd8a37"/>
<ellipse cx="167.4" cy="1117.0" rx="20.2" ry="18.6" fill="#cd8a37" stroke="#74491a" stroke-width="1"/>
<ellipse cx="228.3" cy="1117.0" rx="20.2" ry="18.6" fill="#cd8a37" stroke="#74491a" stroke-width="1"/>
<ellipse cx="136.5" cy="1145.4" rx="20.2" ry="18.6" fill="#cd8a37" stroke="#74491a" stroke-width="1"/>
<ellipse cx="197.7" cy="1145.4" rx="20.2" ry="18.6" fill="#cd8a37" stroke="#74491a" stroke-width="1"/>
<ellipse cx="167.4" cy="1173.3" rx="20.2" ry="18.6" fill="#cd8a37" stroke="#74491a" stroke-width="1"/>
<ellipse cx="228.3" cy="1173.3" rx="20.2" ry="18.6" fill="#cd8a37" stroke="#74491a" stroke-width="1"/>
<ellipse cx="136.5" cy="1201.5" rx="20.2" ry="18.6" fill="#cd8a37" stroke="#74491a" stroke-width="1"/>
<ellipse cx="197.7" cy="1201.5" rx="20.2" ry="18.6" fill="#cd8a37" stroke="#74491a" stroke-width="1"/>
<ellipse cx="136.5" cy="1117.0" rx="20.2" ry="18.6" fill="#cd8a37" stroke="#74491a" stroke-width="1.1"/>
<circle cx="137.9" cy="1114.6" r="11.2" fill="#b07a6a"/>
<circle cx="138.1" cy="1113.7" r="10.6" fill="#f01a1a"/>
<ellipse cx="197.7" cy="1117.0" rx="20.2" ry="18.6" fill="#cd8a37" stroke="#74491a" stroke-width="1.1"/>
<circle cx="199.1" cy="1114.6" r="11.2" fill="#b07a6a"/>
<circle cx="199.3" cy="1113.7" r="10.6" fill="#f01a1a"/>
<ellipse cx="167.4" cy="1145.4" rx="20.2" ry="18.6" fill="#cd8a37" stroke="#74491a" stroke-width="1.1"/>
<ellipse cx="228.3" cy="1145.4" rx="20.2" ry="18.6" fill="#cd8a37" stroke="#74491a" stroke-width="1.1"/>
<ellipse cx="136.5" cy="1173.3" rx="20.2" ry="18.6" fill="#cd8a37" stroke="#74491a" stroke-width="1.1"/>
<circle cx="137.9" cy="1170.9" r="11.2" fill="#b07a6a"/>
<circle cx="138.1" cy="1170.0" r="10.6" fill="#f01a1a"/>
<ellipse cx="197.7" cy="1173.3" rx="20.2" ry="18.6" fill="#cd8a37" stroke="#74491a" stroke-width="1.1"/>
<circle cx="199.1" cy="1170.9" r="11.2" fill="#b07a6a"/>
<circle cx="199.3" cy="1170.0" r="10.6" fill="#f01a1a"/>
<ellipse cx="167.4" cy="1201.5" rx="20.2" ry="18.6" fill="#cd8a37" stroke="#74491a" stroke-width="1.1"/>
<ellipse cx="228.3" cy="1201.5" rx="20.2" ry="18.6" fill="#cd8a37" stroke="#74491a" stroke-width="1.1"/>
<rect x="324.8" y="1119.2" width="90.2" height="82.3" fill="#cd8a37"/>
<ellipse cx="354.6" cy="1119.2" rx="19.6" ry="18.6" fill="#cd8a37" stroke="#74491a" stroke-width="1"/>
<ellipse cx="415.0" cy="1119.2" rx="19.6" ry="18.6" fill="#cd8a37" stroke="#74491a" stroke-width="1"/>
<ellipse cx="324.8" cy="1147.4" rx="19.6" ry="18.6" fill="#cd8a37" stroke="#74491a" stroke-width="1"/>
<ellipse cx="384.2" cy="1147.4" rx="19.6" ry="18.6" fill="#cd8a37" stroke="#74491a" stroke-width="1"/>
<ellipse cx="354.6" cy="1174.4" rx="19.6" ry="18.6" fill="#cd8a37" stroke="#74491a" stroke-width="1"/>
<ellipse cx="415.0" cy="1174.4" rx="19.6" ry="18.6" fill="#cd8a37" stroke="#74491a" stroke-width="1"/>
<ellipse cx="324.8" cy="1201.5" rx="19.6" ry="18.6" fill="#cd8a37" stroke="#74491a" stroke-width="1"/>
<ellipse cx="384.2" cy="1201.5" rx="19.6" ry="18.6" fill="#cd8a37" stroke="#74491a" stroke-width="1"/>
<ellipse cx="324.8" cy="1119.2" rx="19.6" ry="18.6" fill="#cd8a37" stroke="#74491a" stroke-width="1.1"/>
<circle cx="326.2" cy="1116.8" r="11.2" fill="#b07a6a"/>
<circle cx="326.4" cy="1115.9" r="10.6" fill="#f01a1a"/>
<ellipse cx="384.2" cy="1119.2" rx="21.1" ry="19.400000000000002" fill="#1c6e89" stroke="#145058" stroke-width="1"/>
<circle cx="384.2" cy="1119.7" r="11.6" fill="#186070"/>
<circle cx="384.2" cy="1119.2" r="10.6" fill="#f01a1a"/>
<ellipse cx="354.6" cy="1147.4" rx="19.6" ry="18.6" fill="#cd8a37" stroke="#74491a" stroke-width="1.1"/>
<ellipse cx="415.0" cy="1147.4" rx="19.6" ry="18.6" fill="#cd8a37" stroke="#74491a" stroke-width="1.1"/>
<ellipse cx="324.8" cy="1174.4" rx="19.6" ry="18.6" fill="#cd8a37" stroke="#74491a" stroke-width="1.1"/>
<circle cx="326.2" cy="1172.0" r="11.2" fill="#b07a6a"/>
<circle cx="326.4" cy="1171.1" r="10.6" fill="#f01a1a"/>
<ellipse cx="384.2" cy="1174.4" rx="19.6" ry="18.6" fill="#cd8a37" stroke="#74491a" stroke-width="1.1"/>
<circle cx="385.6" cy="1172.0" r="11.2" fill="#b07a6a"/>
<circle cx="385.8" cy="1171.1" r="10.6" fill="#f01a1a"/>
<ellipse cx="354.6" cy="1201.5" rx="19.6" ry="18.6" fill="#cd8a37" stroke="#74491a" stroke-width="1.1"/>
<ellipse cx="415.0" cy="1201.5" rx="19.6" ry="18.6" fill="#cd8a37" stroke="#74491a" stroke-width="1.1"/>
<rect x="507.4" y="1116.3" width="90.4" height="83.5" fill="#cd8a37"/>
<ellipse cx="538.0" cy="1116.3" rx="19.2" ry="18.2" fill="#cd8a37" stroke="#74491a" stroke-width="1"/>
<ellipse cx="597.8" cy="1116.3" rx="19.2" ry="18.2" fill="#cd8a37" stroke="#74491a" stroke-width="1"/>
<ellipse cx="507.4" cy="1144.0" rx="19.2" ry="18.2" fill="#cd8a37" stroke="#74491a" stroke-width="1"/>
<ellipse cx="567.4" cy="1144.0" rx="19.2" ry="18.2" fill="#cd8a37" stroke="#74491a" stroke-width="1"/>
<ellipse cx="538.0" cy="1171.7" rx="19.2" ry="18.2" fill="#cd8a37" stroke="#74491a" stroke-width="1"/>
<ellipse cx="597.8" cy="1171.7" rx="19.2" ry="18.2" fill="#cd8a37" stroke="#74491a" stroke-width="1"/>
<ellipse cx="507.4" cy="1199.8" rx="19.2" ry="18.2" fill="#cd8a37" stroke="#74491a" stroke-width="1"/>
<ellipse cx="567.4" cy="1199.8" rx="19.2" ry="18.2" fill="#cd8a37" stroke="#74491a" stroke-width="1"/>
<ellipse cx="507.4" cy="1116.3" rx="19.2" ry="18.2" fill="#cd8a37" stroke="#74491a" stroke-width="1.1"/>
<ellipse cx="567.4" cy="1116.3" rx="19.2" ry="18.2" fill="#cd8a37" stroke="#74491a" stroke-width="1.1"/>
<ellipse cx="538.0" cy="1144.0" rx="20.7" ry="19.0" fill="#1c6e89" stroke="#145058" stroke-width="1"/>
<circle cx="538.0" cy="1144.5" r="11.6" fill="#186070"/>
<circle cx="538.0" cy="1144.0" r="10.6" fill="#f01a1a"/>
<ellipse cx="597.8" cy="1144.0" rx="20.7" ry="19.0" fill="#1c6e89" stroke="#145058" stroke-width="1"/>
<circle cx="597.8" cy="1144.5" r="11.6" fill="#186070"/>
<circle cx="597.8" cy="1144.0" r="10.6" fill="#f01a1a"/>
<ellipse cx="507.4" cy="1171.7" rx="19.2" ry="18.2" fill="#cd8a37" stroke="#74491a" stroke-width="1.1"/>
<ellipse cx="567.4" cy="1171.7" rx="19.2" ry="18.2" fill="#cd8a37" stroke="#74491a" stroke-width="1.1"/>
<ellipse cx="538.0" cy="1199.8" rx="20.7" ry="19.0" fill="#1c6e89" stroke="#145058" stroke-width="1"/>
<circle cx="538.0" cy="1200.3" r="11.6" fill="#186070"/>
<circle cx="538.0" cy="1199.8" r="10.6" fill="#f01a1a"/>
<ellipse cx="597.8" cy="1199.8" rx="20.7" ry="19.0" fill="#1c6e89" stroke="#145058" stroke-width="1"/>
<circle cx="597.8" cy="1200.3" r="11.6" fill="#186070"/>
<circle cx="597.8" cy="1199.8" r="10.6" fill="#f01a1a"/>
<text transform="translate(175.0,1082.0) scale(1.110,1)" font-size="21" fill="#1a1a1a" text-anchor="middle" >Cu(100)</text>
<text transform="translate(302.0,1082.0) scale(1.080,1)" font-size="21" fill="#1a1a1a" text-anchor="start" >Cu<tspan font-size="15" dy="5">97</tspan><tspan dy="-5">Pd</tspan><tspan font-size="15" dy="5">3</tspan><tspan dy="-5">(100)</tspan></text>
<text transform="translate(483.5,1082.0) scale(1.065,1)" font-size="21" fill="#1a1a1a" text-anchor="start" >Cu<tspan font-size="15" dy="5">75</tspan><tspan dy="-5">Pd</tspan><tspan font-size="15" dy="5">25</tspan><tspan dy="-5">(100)</tspan></text>
<text transform="translate(79.0,1183.0) rotate(-90) scale(1.080,1)" font-size="20" fill="#1a1a1a" text-anchor="start" >4 CO</text>
<circle cx="229.4" cy="1249.4" r="15.3" fill="#c6621c" stroke="#6a3a10" stroke-width="1"/>
<text transform="translate(257.5,1257.5) scale(1.050,1)" font-size="21" fill="#1a1a1a" text-anchor="start" >Cu</text>
<circle cx="347.5" cy="1249" r="16" fill="#1b72c2"/>
<text transform="translate(376.5,1257.5) scale(1.050,1)" font-size="21" fill="#1a1a1a" text-anchor="start" >Pd</text>
<circle cx="460" cy="1249" r="10" fill="#ee1a1a" stroke="#a01010" stroke-width="0.8"/>
<text transform="translate(483.5,1257.5) scale(1.080,1)" font-size="21" fill="#1a1a1a" text-anchor="start" ><tspan font-size="13" dy="-8">*</tspan><tspan dy="8">CO</tspan></text>
<text transform="translate(699.5,715.3) scale(1.1,1)" font-size="31" font-weight="bold" fill="#000" stroke="#000" stroke-width="1.3">c</text>
<defs><linearGradient id="gg" x1="0" y1="0" x2="0" y2="1"><stop offset="0" stop-color="#e4f6da"/><stop offset="1" stop-color="#bdee9c"/></linearGradient><linearGradient id="gor" x1="0" y1="0" x2="0" y2="1"><stop offset="0" stop-color="#fcc9a0"/><stop offset="1" stop-color="#fde9dd"/></linearGradient><linearGradient id="gy" x1="0" y1="0" x2="0" y2="1"><stop offset="0" stop-color="#fdfc98"/><stop offset="1" stop-color="#fcfb9a"/></linearGradient></defs>
<rect x="744" y="744.3" width="41.2" height="435.70000000000005" fill="#abc2e5"/>
<rect x="792.5" y="744.3" width="52.5" height="435.70000000000005" fill="url(#gg)"/>
<rect x="923" y="744.3" width="60" height="435.70000000000005" fill="url(#gy)"/>
<rect x="1037" y="744.3" width="50.3" height="435.70000000000005" fill="#d6d6d8"/>
<rect x="1186.6" y="744.3" width="59.4" height="435.70000000000005" fill="url(#gor)"/>
<path d="M731.0,1139.9 L732.2,1139.7 L733.4,1140.1 L734.6,1139.7 L735.8,1140.0 L737.0,1139.9 L738.2,1139.6 L739.4,1140.0 L740.6,1139.6 L741.8,1139.9 L743.0,1139.7 L744.2,1139.7 L745.4,1139.9 L746.6,1140.3 L747.8,1139.7 L749.0,1139.8 L750.2,1140.1 L751.4,1140.4 L752.6,1140.1 L753.8,1139.9 L755.0,1140.4 L756.2,1139.6 L757.4,1140.3 L758.6,1139.8 L759.8,1139.7 L761.0,1139.7 L762.2,1139.8 L763.4,1140.3 L764.6,1139.7 L765.8,1140.1 L767.0,1140.1 L768.2,1139.9 L769.4,1140.0 L770.6,1139.6 L771.8,1139.6 L773.0,1139.6 L774.2,1139.9 L775.4,1139.6 L776.6,1139.3 L777.8,1139.3 L779.0,1139.0 L780.2,1138.7 L781.4,1138.8 L782.6,1138.5 L783.8,1137.9 L785.0,1137.9 L786.2,1137.7 L787.4,1137.7 L788.6,1137.4 L789.8,1136.9 L791.0,1137.2 L792.2,1136.3 L793.4,1136.4 L794.6,1136.4 L795.8,1135.7 L797.0,1135.7 L798.2,1135.2 L799.4,1135.5 L800.6,1135.4 L801.8,1135.1 L803.0,1135.2 L804.2,1134.7 L805.4,1134.9 L806.6,1134.8 L807.8,1134.8 L809.0,1134.7 L810.2,1135.0 L811.4,1135.1 L812.6,1134.7 L813.8,1134.8 L815.0,1134.3 L816.2,1134.8 L817.4,1134.8 L818.6,1135.0 L819.8,1134.9 L821.0,1134.4 L822.2,1134.5 L823.4,1134.7 L824.6,1134.2 L825.8,1134.6 L827.0,1134.4 L828.2,1134.4 L829.4,1134.5 L830.6,1135.2 L831.8,1134.9 L833.0,1135.2 L834.2,1135.5 L835.4,1136.2 L836.6,1135.8 L837.8,1136.5 L839.0,1137.1 L840.2,1138.0 L841.4,1138.5 L842.6,1139.1 L843.8,1139.1 L845.0,1139.4 L846.2,1139.5 L847.4,1140.1 L848.6,1140.3 L849.8,1139.7 L851.0,1139.9 L852.2,1140.0 L853.4,1140.1 L854.6,1140.3 L855.8,1140.5 L857.0,1140.3 L858.2,1140.1 L859.4,1140.4 L860.6,1140.4 L861.8,1140.6 L863.0,1140.9 L864.2,1140.6 L865.4,1140.5 L866.6,1140.6 L867.8,1140.6 L869.0,1140.1 L870.2,1140.8 L871.4,1140.7 L872.6,1140.8 L873.8,1140.7 L875.0,1140.4 L876.2,1140.4 L877.4,1140.1 L878.6,1140.5 L879.8,1140.1 L881.0,1140.1 L882.2,1140.2 L883.4,1140.1 L884.6,1140.2 L885.8,1140.0 L887.0,1140.0 L888.2,1140.1 L889.4,1140.0 L890.6,1140.2 L891.8,1139.9 L893.0,1140.6 L894.2,1140.4 L895.4,1140.0 L896.6,1140.0 L897.8,1140.1 L899.0,1140.1 L900.2,1139.9 L901.4,1140.5 L902.6,1140.5 L903.8,1140.1 L905.0,1140.1 L906.2,1139.8 L907.4,1139.8 L908.6,1139.9 L909.8,1139.9 L911.0,1140.3 L912.2,1139.7 L913.4,1139.6 L914.6,1140.3 L915.8,1140.0 L917.0,1139.6 L918.2,1139.9 L919.4,1139.5 L920.6,1139.9 L921.8,1140.2 L923.0,1140.1 L924.2,1140.0 L925.4,1139.6 L926.6,1139.6 L927.8,1139.5 L929.0,1139.9 L930.2,1139.7 L931.4,1139.9 L932.6,1139.5 L933.8,1139.4 L935.0,1139.9 L936.2,1140.0 L937.4,1139.8 L938.6,1139.8 L939.8,1139.8 L941.0,1139.7 L942.2,1139.2 L943.4,1139.5 L944.6,1139.3 L945.8,1139.0 L947.0,1139.0 L948.2,1139.2 L949.4,1139.1 L950.6,1139.5 L951.8,1139.7 L953.0,1139.2 L954.2,1139.6 L955.4,1139.6 L956.6,1139.6 L957.8,1139.1 L959.0,1138.9 L960.2,1138.9 L961.4,1138.9 L962.6,1138.9 L963.8,1139.2 L965.0,1139.4 L966.2,1139.3 L967.4,1139.0 L968.6,1139.1 L969.8,1139.2 L971.0,1138.6 L972.2,1139.1 L973.4,1139.2 L974.6,1139.1 L975.8,1139.1 L977.0,1138.8 L978.2,1138.6 L979.4,1139.1 L980.6,1138.7 L981.8,1139.0 L983.0,1139.2 L984.2,1138.7 L985.4,1138.7 L986.6,1139.1 L987.8,1138.9 L989.0,1138.4 L990.2,1138.4 L991.4,1138.4 L992.6,1139.0 L993.8,1138.9 L995.0,1138.4 L996.2,1138.9 L997.4,1139.0 L998.6,1138.7 L999.8,1138.5 L1001.0,1138.6 L1002.2,1138.3 L1003.4,1138.2 L1004.6,1138.9 L1005.8,1138.7 L1007.0,1138.6 L1008.2,1138.9 L1009.4,1138.5 L1010.6,1138.8 L1011.8,1138.8 L1013.0,1138.3 L1014.2,1138.3 L1015.4,1138.3 L1016.6,1138.3 L1017.8,1138.6 L1019.0,1138.3 L1020.2,1138.4 L1021.4,1138.2 L1022.6,1138.8 L1023.8,1138.4 L1025.0,1138.5 L1026.2,1138.6 L1027.4,1138.8 L1028.6,1138.5 L1029.8,1138.9 L1031.0,1138.5 L1032.2,1138.6 L1033.4,1138.6 L1034.6,1138.2 L1035.8,1138.5 L1037.0,1138.3 L1038.2,1138.2 L1039.4,1138.8 L1040.6,1138.4 L1041.8,1138.6 L1043.0,1138.8 L1044.2,1138.7 L1045.4,1138.5 L1046.6,1138.7 L1047.8,1138.7 L1049.0,1138.9 L1050.2,1138.4 L1051.4,1138.8 L1052.6,1138.6 L1053.8,1138.6 L1055.0,1139.0 L1056.2,1138.8 L1057.4,1138.9 L1058.6,1139.1 L1059.8,1139.2 L1061.0,1138.8 L1062.2,1139.0 L1063.4,1138.9 L1064.6,1138.9 L1065.8,1139.1 L1067.0,1138.9 L1068.2,1139.0 L1069.4,1139.0 L1070.6,1139.4 L1071.8,1139.2 L1073.0,1139.4 L1074.2,1139.4 L1075.4,1138.9 L1076.6,1139.2 L1077.8,1139.5 L1079.0,1139.4 L1080.2,1138.9 L1081.4,1138.9 L1082.6,1139.1 L1083.8,1138.8 L1085.0,1139.0 L1086.2,1138.9 L1087.4,1139.4 L1088.6,1139.5 L1089.8,1139.6 L1091.0,1139.0 L1092.2,1139.4 L1093.4,1139.4 L1094.6,1139.0 L1095.8,1139.6 L1097.0,1139.7 L1098.2,1139.1 L1099.4,1139.7 L1100.6,1139.2 L1101.8,1139.3 L1103.0,1139.7 L1104.2,1139.6 L1105.4,1139.0 L1106.6,1139.3 L1107.8,1139.3 L1109.0,1139.2 L1110.2,1139.1 L1111.4,1139.2 L1112.6,1139.5 L1113.8,1138.9 L1115.0,1139.4 L1116.2,1139.3 L1117.4,1138.9 L1118.6,1139.2 L1119.8,1139.4 L1121.0,1139.4 L1122.2,1139.0 L1123.4,1139.7 L1124.6,1139.6 L1125.8,1139.7 L1127.0,1139.0 L1128.2,1139.2 L1129.4,1139.0 L1130.6,1139.6 L1131.8,1139.2 L1133.0,1139.1 L1134.2,1139.3 L1135.4,1139.7 L1136.6,1139.6 L1137.8,1139.2 L1139.0,1139.1 L1140.2,1139.7 L1141.4,1139.4 L1142.6,1139.5 L1143.8,1139.0 L1145.0,1139.0 L1146.2,1139.5 L1147.4,1139.3 L1148.6,1139.0 L1149.8,1139.7 L1151.0,1139.5 L1152.2,1139.6 L1153.4,1139.1 L1154.6,1139.7 L1155.8,1139.0 L1157.0,1139.7 L1158.2,1139.4 L1159.4,1139.3 L1160.6,1139.4 L1161.8,1139.7 L1163.0,1139.2 L1164.2,1139.1 L1165.4,1139.4 L1166.6,1139.2 L1167.8,1139.1 L1169.0,1139.1 L1170.2,1139.0 L1171.4,1139.2 L1172.6,1139.3 L1173.8,1139.3 L1175.0,1139.6 L1176.2,1139.2 L1177.4,1139.4 L1178.6,1139.2 L1179.8,1139.3 L1181.0,1139.0 L1182.2,1139.2 L1183.4,1139.0 L1184.6,1139.6 L1185.8,1139.5 L1187.0,1139.2 L1188.2,1139.4 L1189.4,1139.8 L1190.6,1139.1 L1191.8,1139.7 L1193.0,1139.4 L1194.2,1139.4 L1195.4,1139.7 L1196.6,1139.3 L1197.8,1139.4 L1199.0,1139.6 L1200.2,1139.8 L1201.4,1139.3 L1202.6,1139.7 L1203.8,1139.6 L1205.0,1139.5 L1206.2,1139.4 L1207.4,1139.3 L1208.6,1139.1 L1209.8,1139.1 L1211.0,1139.1 L1212.2,1139.6 L1213.4,1139.2 L1214.6,1139.2 L1215.8,1139.1 L1217.0,1139.7 L1218.2,1139.7 L1219.4,1139.6 L1220.6,1139.3 L1221.8,1139.2 L1223.0,1139.3 L1224.2,1139.4 L1225.4,1139.2 L1226.6,1139.4 L1227.8,1139.3 L1229.0,1139.8 L1230.2,1139.8 L1231.4,1139.5 L1232.6,1139.3 L1233.8,1139.8 L1235.0,1139.3 L1236.2,1139.3 L1237.4,1139.1 L1238.6,1139.4 L1239.8,1139.4 L1241.0,1139.5 L1242.2,1139.2 L1243.4,1139.5 L1244.6,1139.1 L1245.8,1139.3 L1247.0,1139.1 L1248.2,1139.4 L1249.4,1139.1 L1250.6,1139.1 L1251.8,1139.3 L1253.0,1139.3 L1254.2,1139.5 L1255.4,1139.5 L1256.6,1139.7 L1257.8,1139.6 L1259.0,1139.6 L1260.2,1139.8 L1261.4,1139.4 L1262.6,1139.3 L1263.8,1139.9 L1265.0,1139.2 L1266.2,1139.7 L1267.4,1139.6 L1268.6,1139.1 L1269.8,1139.8 L1271.0,1139.8 L1272.2,1139.6 L1273.4,1139.7 L1274.6,1139.7 L1275.8,1139.2 L1277.0,1139.5 L1278.2,1139.5 L1279.4,1139.8 L1280.6,1139.7 L1281.8,1139.8" fill="none" stroke="#1a2bb3" stroke-width="3.6" stroke-linejoin="round" stroke-linecap="round"/>
<path d="M731.0,989.5 L732.2,990.3 L733.4,990.2 L734.6,990.8 L735.8,991.5 L737.0,990.4 L738.2,988.9 L739.4,986.6 L740.6,984.8 L741.8,982.5 L743.0,979.4 L744.2,975.2 L745.4,971.0 L746.6,966.0 L747.8,960.7 L749.0,954.1 L750.2,945.7 L751.4,935.3 L752.6,924.0 L753.8,909.5 L755.0,889.2 L756.2,869.4 L757.4,855.9 L758.6,844.2 L759.8,838.8 L761.0,842.1 L762.2,848.1 L763.4,859.0 L764.6,877.6 L765.8,901.6 L767.0,933.8 L768.2,964.4 L769.4,996.9 L770.6,1023.1 L771.8,1032.8 L773.0,1039.4 L774.2,1045.9 L775.4,1050.5 L776.6,1054.2 L777.8,1057.7 L779.0,1060.6 L780.2,1063.6 L781.4,1066.4 L782.6,1070.4 L783.8,1073.6 L785.0,1075.8 L786.2,1079.4 L787.4,1082.1 L788.6,1084.3 L789.8,1086.6 L791.0,1088.3 L792.2,1090.2 L793.4,1090.9 L794.6,1092.3 L795.8,1092.9 L797.0,1094.5 L798.2,1095.4 L799.4,1095.8 L800.6,1096.8 L801.8,1097.9 L803.0,1098.4 L804.2,1098.7 L805.4,1098.9 L806.6,1099.5 L807.8,1100.2 L809.0,1099.8 L810.2,1100.7 L811.4,1100.0 L812.6,1100.7 L813.8,1100.0 L815.0,1100.6 L816.2,1100.3 L817.4,1099.9 L818.6,1099.9 L819.8,1099.9 L821.0,1099.6 L822.2,1099.2 L823.4,1098.9 L824.6,1099.0 L825.8,1099.2 L827.0,1098.6 L828.2,1097.8 L829.4,1098.3 L830.6,1097.9 L831.8,1097.7 L833.0,1096.6 L834.2,1096.8 L835.4,1095.6 L836.6,1095.8 L837.8,1094.9 L839.0,1094.4 L840.2,1094.6 L841.4,1093.2 L842.6,1092.9 L843.8,1091.8 L845.0,1088.9 L846.2,1086.1 L847.4,1083.9 L848.6,1079.8 L849.8,1074.3 L851.0,1067.2 L852.2,1062.8 L853.4,1061.8 L854.6,1066.5 L855.8,1072.1 L857.0,1078.4 L858.2,1080.9 L859.4,1084.9 L860.6,1086.7 L861.8,1088.8 L863.0,1091.2 L864.2,1092.1 L865.4,1093.7 L866.6,1095.6 L867.8,1096.3 L869.0,1096.8 L870.2,1098.3 L871.4,1097.4 L872.6,1096.8 L873.8,1096.3 L875.0,1095.5 L876.2,1094.6 L877.4,1093.1 L878.6,1092.4 L879.8,1091.2 L881.0,1090.9 L882.2,1090.9 L883.4,1091.2 L884.6,1092.8 L885.8,1094.5 L887.0,1096.3 L888.2,1097.0 L889.4,1097.2 L890.6,1097.3 L891.8,1098.1 L893.0,1098.0 L894.2,1098.0 L895.4,1098.6 L896.6,1099.2 L897.8,1098.5 L899.0,1099.1 L900.2,1098.9 L901.4,1099.1 L902.6,1098.7 L903.8,1099.6 L905.0,1098.9 L906.2,1099.3 L907.4,1099.0 L908.6,1098.6 L909.8,1099.2 L911.0,1098.7 L912.2,1098.6 L913.4,1098.5 L914.6,1098.6 L915.8,1098.5 L917.0,1099.1 L918.2,1098.9 L919.4,1099.4 L920.6,1099.2 L921.8,1099.2 L923.0,1098.3 L924.2,1098.5 L925.4,1098.1 L926.6,1098.4 L927.8,1098.3 L929.0,1098.3 L930.2,1097.9 L931.4,1097.2 L932.6,1097.1 L933.8,1096.8 L935.0,1095.8 L936.2,1095.3 L937.4,1095.0 L938.6,1093.8 L939.8,1093.4 L941.0,1091.4 L942.2,1089.1 L943.4,1085.6 L944.6,1079.4 L945.8,1067.8 L947.0,1048.1 L948.2,1016.7 L949.4,974.1 L950.6,927.6 L951.8,891.9 L953.0,889.5 L954.2,920.8 L955.4,966.9 L956.6,1010.4 L957.8,1043.9 L959.0,1065.8 L960.2,1078.0 L961.4,1085.4 L962.6,1089.4 L963.8,1091.4 L965.0,1093.0 L966.2,1094.9 L967.4,1095.4 L968.6,1096.3 L969.8,1097.4 L971.0,1097.5 L972.2,1097.6 L973.4,1098.7 L974.6,1098.3 L975.8,1098.2 L977.0,1099.1 L978.2,1098.7 L979.4,1099.1 L980.6,1099.8 L981.8,1099.7 L983.0,1099.1 L984.2,1099.7 L985.4,1099.7 L986.6,1099.5 L987.8,1098.7 L989.0,1098.3 L990.2,1096.9 L991.4,1096.3 L992.6,1095.7 L993.8,1095.8 L995.0,1094.4 L996.2,1094.6 L997.4,1093.5 L998.6,1093.5 L999.8,1092.9 L1001.0,1092.5 L1002.2,1092.3 L1003.4,1091.5 L1004.6,1090.7 L1005.8,1090.2 L1007.0,1089.6 L1008.2,1089.9 L1009.4,1089.0 L1010.6,1088.5 L1011.8,1087.3 L1013.0,1085.6 L1014.2,1085.4 L1015.4,1084.8 L1016.6,1084.1 L1017.8,1083.5 L1019.0,1083.2 L1020.2,1083.5 L1021.4,1084.4 L1022.6,1084.6 L1023.8,1085.9 L1025.0,1086.9 L1026.2,1088.5 L1027.4,1089.4 L1028.6,1090.3 L1029.8,1090.9 L1031.0,1090.6 L1032.2,1090.4 L1033.4,1090.3 L1034.6,1089.4 L1035.8,1088.7 L1037.0,1088.0 L1038.2,1087.1 L1039.4,1085.5 L1040.6,1084.6 L1041.8,1082.6 L1043.0,1081.7 L1044.2,1081.0 L1045.4,1078.6 L1046.6,1077.4 L1047.8,1075.3 L1049.0,1073.6 L1050.2,1072.8 L1051.4,1071.1 L1052.6,1069.0 L1053.8,1066.5 L1055.0,1064.6 L1056.2,1062.2 L1057.4,1060.0 L1058.6,1057.1 L1059.8,1053.2 L1061.0,1048.5 L1062.2,1039.1 L1063.4,1028.3 L1064.6,1018.2 L1065.8,1011.6 L1067.0,1011.5 L1068.2,1018.4 L1069.4,1026.8 L1070.6,1032.3 L1071.8,1038.0 L1073.0,1042.5 L1074.2,1048.3 L1075.4,1054.6 L1076.6,1062.4 L1077.8,1069.1 L1079.0,1076.3 L1080.2,1083.5 L1081.4,1088.2 L1082.6,1089.1 L1083.8,1090.8 L1085.0,1092.0 L1086.2,1091.9 L1087.4,1092.7 L1088.6,1092.9 L1089.8,1092.8 L1091.0,1092.8 L1092.2,1092.5 L1093.4,1091.5 L1094.6,1090.4 L1095.8,1090.0 L1097.0,1088.5 L1098.2,1088.1 L1099.4,1087.3 L1100.6,1086.9 L1101.8,1086.8 L1103.0,1086.1 L1104.2,1086.9 L1105.4,1087.2 L1106.6,1088.2 L1107.8,1089.5 L1109.0,1090.1 L1110.2,1090.5 L1111.4,1092.1 L1112.6,1093.4 L1113.8,1094.6 L1115.0,1095.1 L1116.2,1095.9 L1117.4,1095.4 L1118.6,1096.7 L1119.8,1096.7 L1121.0,1096.8 L1122.2,1097.3 L1123.4,1097.5 L1124.6,1096.9 L1125.8,1097.9 L1127.0,1098.0 L1128.2,1097.6 L1129.4,1098.3 L1130.6,1098.3 L1131.8,1098.1 L1133.0,1098.9 L1134.2,1098.3 L1135.4,1099.0 L1136.6,1098.9 L1137.8,1098.8 L1139.0,1099.3 L1140.2,1099.3 L1141.4,1099.1 L1142.6,1100.1 L1143.8,1099.2 L1145.0,1099.2 L1146.2,1099.8 L1147.4,1100.3 L1148.6,1100.2 L1149.8,1100.4 L1151.0,1100.2 L1152.2,1100.4 L1153.4,1100.1 L1154.6,1100.1 L1155.8,1100.4 L1157.0,1099.9 L1158.2,1100.0 L1159.4,1100.8 L1160.6,1100.2 L1161.8,1100.9 L1163.0,1101.0 L1164.2,1100.6 L1165.4,1100.9 L1166.6,1101.1 L1167.8,1101.2 L1169.0,1100.4 L1170.2,1100.5 L1171.4,1100.8 L1172.6,1100.9 L1173.8,1100.7 L1175.0,1100.4 L1176.2,1101.0 L1177.4,1101.5 L1178.6,1100.8 L1179.8,1101.0 L1181.0,1100.6 L1182.2,1100.3 L1183.4,1100.4 L1184.6,1099.3 L1185.8,1099.1 L1187.0,1098.1 L1188.2,1097.2 L1189.4,1096.7 L1190.6,1094.9 L1191.8,1095.0 L1193.0,1094.1 L1194.2,1094.5 L1195.4,1094.7 L1196.6,1094.7 L1197.8,1094.5 L1199.0,1095.2 L1200.2,1094.5 L1201.4,1095.2 L1202.6,1095.0 L1203.8,1095.2 L1205.0,1094.6 L1206.2,1092.2 L1207.4,1088.8 L1208.6,1085.0 L1209.8,1081.8 L1211.0,1079.9 L1212.2,1078.0 L1213.4,1076.6 L1214.6,1076.0 L1215.8,1073.7 L1217.0,1073.1 L1218.2,1070.9 L1219.4,1068.7 L1220.6,1066.2 L1221.8,1063.5 L1223.0,1061.7 L1224.2,1059.9 L1225.4,1059.5 L1226.6,1059.7 L1227.8,1061.6 L1229.0,1063.5 L1230.2,1065.4 L1231.4,1068.2 L1232.6,1072.9 L1233.8,1079.3 L1235.0,1086.6 L1236.2,1092.6 L1237.4,1095.4 L1238.6,1098.1 L1239.8,1099.6 L1241.0,1100.7 L1242.2,1101.5 L1243.4,1100.9 L1244.6,1101.5 L1245.8,1101.3 L1247.0,1101.0 L1248.2,1101.5 L1249.4,1100.9 L1250.6,1101.5 L1251.8,1101.5 L1253.0,1101.0 L1254.2,1101.2 L1255.4,1101.5 L1256.6,1101.2 L1257.8,1101.2 L1259.0,1101.3 L1260.2,1101.3 L1261.4,1101.1 L1262.6,1101.3 L1263.8,1100.5 L1265.0,1100.8 L1266.2,1100.8 L1267.4,1100.4 L1268.6,1100.4 L1269.8,1100.1 L1271.0,1100.9 L1272.2,1100.2 L1273.4,1100.3 L1274.6,1100.7 L1275.8,1099.9 L1277.0,1100.7 L1278.2,1099.7 L1279.4,1099.6 L1280.6,1099.9 L1281.8,1099.9" fill="none" stroke="#1e7b22" stroke-width="3.6" stroke-linejoin="round" stroke-linecap="round"/>
<path d="M731.0,970.7 L732.2,977.4 L733.4,984.3 L734.6,990.6 L735.8,993.5 L737.0,993.0 L738.2,992.9 L739.4,993.9 L740.6,993.2 L741.8,993.2 L743.0,994.0 L744.2,993.4 L745.4,993.8 L746.6,993.5 L747.8,993.6 L749.0,992.2 L750.2,990.9 L751.4,988.8 L752.6,985.8 L753.8,983.0 L755.0,978.2 L756.2,972.3 L757.4,968.8 L758.6,966.7 L759.8,968.5 L761.0,974.0 L762.2,981.6 L763.4,986.6 L764.6,992.1 L765.8,997.8 L767.0,1003.2 L768.2,1008.6 L769.4,1012.4 L770.6,1016.2 L771.8,1017.7 L773.0,1018.7 L774.2,1019.1 L775.4,1018.6 L776.6,1019.0 L777.8,1019.4 L779.0,1020.5 L780.2,1020.2 L781.4,1020.7 L782.6,1020.6 L783.8,1021.1 L785.0,1021.2 L786.2,1021.3 L787.4,1021.8 L788.6,1021.9 L789.8,1022.4 L791.0,1022.3 L792.2,1022.7 L793.4,1022.7 L794.6,1023.0 L795.8,1022.7 L797.0,1022.2 L798.2,1023.0 L799.4,1023.2 L800.6,1023.2 L801.8,1022.8 L803.0,1023.0 L804.2,1022.4 L805.4,1023.1 L806.6,1022.8 L807.8,1022.4 L809.0,1022.1 L810.2,1022.9 L811.4,1023.0 L812.6,1021.9 L813.8,1022.6 L815.0,1022.0 L816.2,1021.6 L817.4,1021.6 L818.6,1021.9 L819.8,1021.9 L821.0,1020.8 L822.2,1021.2 L823.4,1020.4 L824.6,1020.9 L825.8,1020.2 L827.0,1020.6 L828.2,1020.4 L829.4,1019.7 L830.6,1019.9 L831.8,1018.9 L833.0,1018.3 L834.2,1018.6 L835.4,1017.7 L836.6,1017.5 L837.8,1017.4 L839.0,1017.3 L840.2,1016.5 L841.4,1015.9 L842.6,1016.3 L843.8,1015.1 L845.0,1015.0 L846.2,1014.0 L847.4,1012.3 L848.6,1010.1 L849.8,1007.8 L851.0,1007.1 L852.2,1007.8 L853.4,1009.2 L854.6,1010.7 L855.8,1012.0 L857.0,1012.3 L858.2,1013.1 L859.4,1014.2 L860.6,1014.3 L861.8,1015.0 L863.0,1016.1 L864.2,1015.9 L865.4,1016.0 L866.6,1015.6 L867.8,1016.1 L869.0,1016.3 L870.2,1015.8 L871.4,1016.5 L872.6,1016.6 L873.8,1016.0 L875.0,1016.7 L876.2,1016.5 L877.4,1016.8 L878.6,1016.5 L879.8,1016.9 L881.0,1017.0 L882.2,1016.3 L883.4,1016.4 L884.6,1017.2 L885.8,1017.6 L887.0,1016.9 L888.2,1017.3 L889.4,1017.5 L890.6,1017.4 L891.8,1017.5 L893.0,1017.6 L894.2,1017.8 L895.4,1018.2 L896.6,1018.0 L897.8,1018.2 L899.0,1018.8 L900.2,1018.1 L901.4,1018.9 L902.6,1019.2 L903.8,1018.9 L905.0,1018.9 L906.2,1019.7 L907.4,1019.1 L908.6,1019.2 L909.8,1019.6 L911.0,1020.0 L912.2,1019.4 L913.4,1019.7 L914.6,1019.8 L915.8,1020.4 L917.0,1020.0 L918.2,1020.4 L919.4,1019.7 L920.6,1019.9 L921.8,1020.2 L923.0,1020.4 L924.2,1019.8 L925.4,1019.4 L926.6,1019.2 L927.8,1019.5 L929.0,1019.0 L930.2,1019.5 L931.4,1019.3 L932.6,1018.4 L933.8,1018.2 L935.0,1018.4 L936.2,1017.8 L937.4,1017.4 L938.6,1016.3 L939.8,1015.2 L941.0,1014.3 L942.2,1013.2 L943.4,1010.2 L944.6,1005.9 L945.8,997.7 L947.0,982.6 L948.2,957.4 L949.4,922.1 L950.6,880.0 L951.8,847.6 L953.0,845.7 L954.2,874.2 L955.4,915.4 L956.6,952.2 L957.8,979.7 L959.0,996.3 L960.2,1004.7 L961.4,1010.2 L962.6,1013.0 L963.8,1014.4 L965.0,1015.5 L966.2,1016.1 L967.4,1016.8 L968.6,1017.3 L969.8,1017.5 L971.0,1018.5 L972.2,1018.4 L973.4,1019.3 L974.6,1018.6 L975.8,1019.8 L977.0,1019.7 L978.2,1020.1 L979.4,1020.2 L980.6,1020.3 L981.8,1019.9 L983.0,1019.3 L984.2,1020.0 L985.4,1019.2 L986.6,1019.2 L987.8,1019.3 L989.0,1018.9 L990.2,1018.5 L991.4,1018.7 L992.6,1018.0 L993.8,1017.3 L995.0,1016.8 L996.2,1017.1 L997.4,1016.3 L998.6,1016.2 L999.8,1015.3 L1001.0,1014.8 L1002.2,1014.8 L1003.4,1014.7 L1004.6,1013.7 L1005.8,1014.0 L1007.0,1013.9 L1008.2,1013.5 L1009.4,1013.1 L1010.6,1011.9 L1011.8,1012.3 L1013.0,1012.2 L1014.2,1011.0 L1015.4,1010.9 L1016.6,1010.7 L1017.8,1010.8 L1019.0,1010.5 L1020.2,1010.5 L1021.4,1010.8 L1022.6,1010.2 L1023.8,1010.6 L1025.0,1011.2 L1026.2,1011.8 L1027.4,1012.4 L1028.6,1014.0 L1029.8,1014.5 L1031.0,1014.2 L1032.2,1015.0 L1033.4,1015.0 L1034.6,1015.0 L1035.8,1014.8 L1037.0,1014.5 L1038.2,1013.7 L1039.4,1012.6 L1040.6,1011.4 L1041.8,1010.4 L1043.0,1009.1 L1044.2,1008.6 L1045.4,1007.8 L1046.6,1006.5 L1047.8,1005.3 L1049.0,1004.4 L1050.2,1003.6 L1051.4,1002.7 L1052.6,1001.7 L1053.8,999.8 L1055.0,998.6 L1056.2,996.4 L1057.4,994.0 L1058.6,991.4 L1059.8,988.2 L1061.0,985.1 L1062.2,981.5 L1063.4,979.7 L1064.6,980.9 L1065.8,984.1 L1067.0,988.1 L1068.2,992.5 L1069.4,995.6 L1070.6,999.4 L1071.8,1002.4 L1073.0,1005.5 L1074.2,1008.3 L1075.4,1010.3 L1076.6,1013.1 L1077.8,1014.7 L1079.0,1015.0 L1080.2,1015.3 L1081.4,1014.8 L1082.6,1015.3 L1083.8,1014.8 L1085.0,1014.7 L1086.2,1014.3 L1087.4,1013.8 L1088.6,1013.5 L1089.8,1013.1 L1091.0,1012.3 L1092.2,1012.6 L1093.4,1011.7 L1094.6,1011.6 L1095.8,1012.1 L1097.0,1011.0 L1098.2,1010.9 L1099.4,1010.7 L1100.6,1011.4 L1101.8,1010.5 L1103.0,1010.2 L1104.2,1011.0 L1105.4,1010.3 L1106.6,1011.4 L1107.8,1011.9 L1109.0,1013.0 L1110.2,1014.2 L1111.4,1015.0 L1112.6,1016.4 L1113.8,1016.7 L1115.0,1018.4 L1116.2,1018.8 L1117.4,1019.4 L1118.6,1018.9 L1119.8,1019.8 L1121.0,1020.1 L1122.2,1019.3 L1123.4,1019.8 L1124.6,1020.2 L1125.8,1020.6 L1127.0,1020.1 L1128.2,1020.1 L1129.4,1020.3 L1130.6,1020.8 L1131.8,1021.1 L1133.0,1020.8 L1134.2,1020.9 L1135.4,1021.0 L1136.6,1021.0 L1137.8,1021.2 L1139.0,1020.9 L1140.2,1021.4 L1141.4,1022.0 L1142.6,1021.5 L1143.8,1021.9 L1145.0,1021.3 L1146.2,1021.9 L1147.4,1022.0 L1148.6,1022.0 L1149.8,1021.9 L1151.0,1021.8 L1152.2,1022.1 L1153.4,1022.4 L1154.6,1021.6 L1155.8,1021.5 L1157.0,1022.2 L1158.2,1022.4 L1159.4,1022.0 L1160.6,1021.9 L1161.8,1022.2 L1163.0,1021.6 L1164.2,1021.7 L1165.4,1021.6 L1166.6,1022.0 L1167.8,1021.7 L1169.0,1021.6 L1170.2,1022.0 L1171.4,1022.3 L1172.6,1021.5 L1173.8,1021.9 L1175.0,1021.6 L1176.2,1022.0 L1177.4,1021.7 L1178.6,1021.2 L1179.8,1021.1 L1181.0,1020.8 L1182.2,1021.1 L1183.4,1020.7 L1184.6,1020.2 L1185.8,1020.1 L1187.0,1019.7 L1188.2,1019.7 L1189.4,1018.6 L1190.6,1019.0 L1191.8,1017.9 L1193.0,1017.2 L1194.2,1016.1 L1195.4,1015.2 L1196.6,1013.7 L1197.8,1011.7 L1199.0,1009.7 L1200.2,1007.8 L1201.4,1005.6 L1202.6,1002.3 L1203.8,997.7 L1205.0,991.5 L1206.2,984.0 L1207.4,977.5 L1208.6,972.8 L1209.8,971.3 L1211.0,972.4 L1212.2,975.6 L1213.4,979.2 L1214.6,981.9 L1215.8,984.2 L1217.0,986.7 L1218.2,988.8 L1219.4,990.8 L1220.6,991.2 L1221.8,988.8 L1223.0,984.2 L1224.2,982.1 L1225.4,981.7 L1226.6,983.6 L1227.8,986.8 L1229.0,989.8 L1230.2,993.9 L1231.4,998.8 L1232.6,1001.9 L1233.8,1005.1 L1235.0,1008.7 L1236.2,1012.3 L1237.4,1014.8 L1238.6,1017.7 L1239.8,1019.4 L1241.0,1019.9 L1242.2,1020.0 L1243.4,1020.8 L1244.6,1021.4 L1245.8,1021.0 L1247.0,1021.4 L1248.2,1021.0 L1249.4,1021.2 L1250.6,1021.7 L1251.8,1021.1 L1253.0,1021.9 L1254.2,1021.9 L1255.4,1021.0 L1256.6,1022.0 L1257.8,1021.3 L1259.0,1021.8 L1260.2,1021.8 L1261.4,1021.2 L1262.6,1021.7 L1263.8,1021.6 L1265.0,1021.8 L1266.2,1021.2 L1267.4,1021.7 L1268.6,1022.0 L1269.8,1021.6 L1271.0,1021.5 L1272.2,1021.0 L1273.4,1021.4 L1274.6,1021.3 L1275.8,1021.7 L1277.0,1021.6 L1278.2,1021.5 L1279.4,1021.1 L1280.6,1021.6 L1281.8,1021.5" fill="none" stroke="#1f8088" stroke-width="3.6" stroke-linejoin="round" stroke-linecap="round"/>
<path d="M731.0,1035.9 L732.2,1035.7 L733.4,1035.9 L734.6,1035.6 L735.8,1035.4 L737.0,1035.7 L738.2,1036.2 L739.4,1036.0 L740.6,1035.8 L741.8,1035.1 L743.0,1035.3 L744.2,1034.9 L745.4,1034.5 L746.6,1033.5 L747.8,1032.1 L749.0,1030.9 L750.2,1028.6 L751.4,1026.4 L752.6,1024.2 L753.8,1020.6 L755.0,1017.5 L756.2,1014.9 L757.4,1012.7 L758.6,1011.9 L759.8,1012.9 L761.0,1015.0 L762.2,1019.7 L763.4,1024.4 L764.6,1028.7 L765.8,1032.4 L767.0,1037.6 L768.2,1042.4 L769.4,1048.2 L770.6,1052.0 L771.8,1053.9 L773.0,1054.3 L774.2,1055.4 L775.4,1055.4 L776.6,1056.2 L777.8,1056.5 L779.0,1056.5 L780.2,1056.8 L781.4,1057.3 L782.6,1057.4 L783.8,1057.4 L785.0,1057.9 L786.2,1058.7 L787.4,1058.1 L788.6,1058.3 L789.8,1059.2 L791.0,1059.0 L792.2,1059.5 L793.4,1059.6 L794.6,1059.6 L795.8,1060.5 L797.0,1059.7 L798.2,1060.1 L799.4,1060.0 L800.6,1060.6 L801.8,1060.3 L803.0,1060.4 L804.2,1060.9 L805.4,1060.5 L806.6,1060.9 L807.8,1061.3 L809.0,1060.4 L810.2,1060.4 L811.4,1060.6 L812.6,1061.2 L813.8,1061.1 L815.0,1060.7 L816.2,1060.8 L817.4,1060.6 L818.6,1060.9 L819.8,1060.4 L821.0,1061.1 L822.2,1061.2 L823.4,1061.2 L824.6,1060.9 L825.8,1061.1 L827.0,1060.0 L828.2,1060.2 L829.4,1060.8 L830.6,1060.5 L831.8,1060.0 L833.0,1060.4 L834.2,1059.9 L835.4,1060.0 L836.6,1059.3 L837.8,1059.0 L839.0,1059.1 L840.2,1058.6 L841.4,1058.6 L842.6,1059.1 L843.8,1058.2 L845.0,1057.6 L846.2,1057.4 L847.4,1057.0 L848.6,1056.9 L849.8,1055.5 L851.0,1054.6 L852.2,1053.8 L853.4,1054.7 L854.6,1054.7 L855.8,1055.4 L857.0,1056.5 L858.2,1057.6 L859.4,1058.4 L860.6,1059.2 L861.8,1058.7 L863.0,1058.6 L864.2,1059.2 L865.4,1059.0 L866.6,1059.9 L867.8,1059.0 L869.0,1059.5 L870.2,1059.8 L871.4,1059.4 L872.6,1060.1 L873.8,1059.5 L875.0,1059.3 L876.2,1059.5 L877.4,1059.1 L878.6,1059.5 L879.8,1059.4 L881.0,1060.1 L882.2,1060.0 L883.4,1059.7 L884.6,1059.1 L885.8,1059.4 L887.0,1059.4 L888.2,1059.3 L889.4,1059.4 L890.6,1060.1 L891.8,1059.3 L893.0,1059.2 L894.2,1060.1 L895.4,1059.7 L896.6,1060.2 L897.8,1059.6 L899.0,1060.1 L900.2,1059.8 L901.4,1060.0 L902.6,1059.9 L903.8,1059.6 L905.0,1059.2 L906.2,1059.3 L907.4,1060.0 L908.6,1060.0 L909.8,1060.0 L911.0,1059.4 L912.2,1059.7 L913.4,1059.8 L914.6,1059.6 L915.8,1059.8 L917.0,1059.4 L918.2,1059.5 L919.4,1059.5 L920.6,1059.0 L921.8,1059.7 L923.0,1059.6 L924.2,1058.6 L925.4,1059.5 L926.6,1059.4 L927.8,1059.0 L929.0,1058.2 L930.2,1059.0 L931.4,1057.9 L932.6,1058.7 L933.8,1058.1 L935.0,1057.1 L936.2,1056.9 L937.4,1057.0 L938.6,1056.4 L939.8,1055.9 L941.0,1055.2 L942.2,1053.2 L943.4,1051.1 L944.6,1048.8 L945.8,1041.5 L947.0,1030.3 L948.2,1007.8 L949.4,975.7 L950.6,935.9 L951.8,903.7 L953.0,900.3 L954.2,929.5 L955.4,968.7 L956.6,1003.7 L957.8,1026.8 L959.0,1041.0 L960.2,1047.9 L961.4,1051.2 L962.6,1053.2 L963.8,1054.0 L965.0,1055.0 L966.2,1056.3 L967.4,1056.8 L968.6,1057.6 L969.8,1057.7 L971.0,1057.5 L972.2,1058.0 L973.4,1058.6 L974.6,1058.5 L975.8,1058.1 L977.0,1059.1 L978.2,1059.2 L979.4,1058.5 L980.6,1059.1 L981.8,1059.0 L983.0,1059.4 L984.2,1058.9 L985.4,1058.8 L986.6,1059.0 L987.8,1059.4 L989.0,1058.3 L990.2,1058.2 L991.4,1058.6 L992.6,1058.8 L993.8,1058.2 L995.0,1057.9 L996.2,1058.1 L997.4,1057.9 L998.6,1056.9 L999.8,1057.5 L1001.0,1056.6 L1002.2,1056.4 L1003.4,1056.8 L1004.6,1056.1 L1005.8,1056.3 L1007.0,1055.4 L1008.2,1056.0 L1009.4,1055.0 L1010.6,1054.8 L1011.8,1055.0 L1013.0,1054.7 L1014.2,1054.7 L1015.4,1054.8 L1016.6,1054.4 L1017.8,1053.5 L1019.0,1053.8 L1020.2,1054.1 L1021.4,1054.2 L1022.6,1054.7 L1023.8,1054.7 L1025.0,1054.6 L1026.2,1055.1 L1027.4,1056.1 L1028.6,1055.9 L1029.8,1056.6 L1031.0,1057.1 L1032.2,1056.9 L1033.4,1057.1 L1034.6,1057.0 L1035.8,1056.5 L1037.0,1056.8 L1038.2,1055.8 L1039.4,1055.7 L1040.6,1054.3 L1041.8,1054.2 L1043.0,1053.4 L1044.2,1052.5 L1045.4,1051.6 L1046.6,1050.6 L1047.8,1050.6 L1049.0,1049.5 L1050.2,1049.0 L1051.4,1047.5 L1052.6,1046.5 L1053.8,1045.5 L1055.0,1044.8 L1056.2,1042.6 L1057.4,1041.7 L1058.6,1039.4 L1059.8,1037.6 L1061.0,1034.7 L1062.2,1032.3 L1063.4,1029.7 L1064.6,1029.5 L1065.8,1031.0 L1067.0,1032.0 L1068.2,1034.4 L1069.4,1036.0 L1070.6,1038.1 L1071.8,1040.0 L1073.0,1042.4 L1074.2,1046.0 L1075.4,1048.5 L1076.6,1050.7 L1077.8,1052.5 L1079.0,1054.5 L1080.2,1055.3 L1081.4,1057.1 L1082.6,1057.8 L1083.8,1058.0 L1085.0,1058.4 L1086.2,1058.1 L1087.4,1058.1 L1088.6,1057.0 L1089.8,1057.4 L1091.0,1057.1 L1092.2,1057.0 L1093.4,1056.6 L1094.6,1056.5 L1095.8,1055.7 L1097.0,1056.2 L1098.2,1055.4 L1099.4,1055.4 L1100.6,1055.7 L1101.8,1055.4 L1103.0,1055.0 L1104.2,1055.2 L1105.4,1055.8 L1106.6,1056.8 L1107.8,1057.9 L1109.0,1058.5 L1110.2,1058.7 L1111.4,1059.3 L1112.6,1060.1 L1113.8,1059.8 L1115.0,1060.0 L1116.2,1059.7 L1117.4,1059.9 L1118.6,1060.4 L1119.8,1060.7 L1121.0,1060.7 L1122.2,1060.5 L1123.4,1061.2 L1124.6,1060.9 L1125.8,1060.5 L1127.0,1060.4 L1128.2,1061.5 L1129.4,1061.6 L1130.6,1061.6 L1131.8,1061.3 L1133.0,1061.0 L1134.2,1060.8 L1135.4,1061.1 L1136.6,1061.1 L1137.8,1061.9 L1139.0,1061.9 L1140.2,1061.8 L1141.4,1061.1 L1142.6,1061.3 L1143.8,1061.4 L1145.0,1062.1 L1146.2,1061.3 L1147.4,1062.0 L1148.6,1061.9 L1149.8,1061.8 L1151.0,1062.2 L1152.2,1061.5 L1153.4,1061.8 L1154.6,1061.4 L1155.8,1061.3 L1157.0,1061.3 L1158.2,1061.6 L1159.4,1061.4 L1160.6,1061.3 L1161.8,1062.3 L1163.0,1061.5 L1164.2,1062.2 L1165.4,1062.0 L1166.6,1062.0 L1167.8,1061.9 L1169.0,1062.2 L1170.2,1062.1 L1171.4,1061.9 L1172.6,1061.7 L1173.8,1061.8 L1175.0,1061.8 L1176.2,1061.6 L1177.4,1061.5 L1178.6,1061.1 L1179.8,1061.8 L1181.0,1061.3 L1182.2,1060.8 L1183.4,1060.9 L1184.6,1061.6 L1185.8,1060.9 L1187.0,1060.9 L1188.2,1061.2 L1189.4,1061.3 L1190.6,1060.7 L1191.8,1060.6 L1193.0,1060.6 L1194.2,1060.1 L1195.4,1060.9 L1196.6,1059.9 L1197.8,1060.8 L1199.0,1059.6 L1200.2,1059.3 L1201.4,1059.6 L1202.6,1059.1 L1203.8,1057.8 L1205.0,1057.4 L1206.2,1055.9 L1207.4,1052.7 L1208.6,1047.9 L1209.8,1045.3 L1211.0,1044.6 L1212.2,1044.7 L1213.4,1045.8 L1214.6,1047.0 L1215.8,1047.6 L1217.0,1049.3 L1218.2,1050.0 L1219.4,1050.1 L1220.6,1049.4 L1221.8,1049.4 L1223.0,1049.1 L1224.2,1047.8 L1225.4,1047.8 L1226.6,1048.0 L1227.8,1048.5 L1229.0,1049.7 L1230.2,1052.7 L1231.4,1054.8 L1232.6,1057.7 L1233.8,1059.1 L1235.0,1059.4 L1236.2,1060.1 L1237.4,1059.8 L1238.6,1059.6 L1239.8,1060.2 L1241.0,1060.3 L1242.2,1060.3 L1243.4,1060.3 L1244.6,1060.1 L1245.8,1060.2 L1247.0,1060.1 L1248.2,1060.1 L1249.4,1060.6 L1250.6,1059.9 L1251.8,1059.7 L1253.0,1060.4 L1254.2,1060.2 L1255.4,1060.2 L1256.6,1060.3 L1257.8,1059.9 L1259.0,1059.9 L1260.2,1059.8 L1261.4,1060.6 L1262.6,1060.7 L1263.8,1060.5 L1265.0,1059.9 L1266.2,1060.8 L1267.4,1060.7 L1268.6,1060.3 L1269.8,1059.8 L1271.0,1060.7 L1272.2,1060.5 L1273.4,1060.5 L1274.6,1059.8 L1275.8,1060.6 L1277.0,1059.9 L1278.2,1060.4 L1279.4,1060.0 L1280.6,1060.3 L1281.8,1060.9" fill="none" stroke="#f0911e" stroke-width="3.6" stroke-linejoin="round" stroke-linecap="round"/>
<path d="M731.0,933.2 L732.2,935.9 L733.4,938.3 L734.6,940.9 L735.8,943.2 L737.0,946.4 L738.2,948.3 L739.4,950.6 L740.6,952.0 L741.8,954.2 L743.0,955.2 L744.2,957.1 L745.4,958.0 L746.6,958.4 L747.8,959.1 L749.0,959.8 L750.2,959.7 L751.4,960.6 L752.6,961.4 L753.8,961.5 L755.0,962.9 L756.2,964.0 L757.4,965.6 L758.6,966.6 L759.8,968.1 L761.0,970.7 L762.2,972.5 L763.4,973.9 L764.6,975.2 L765.8,976.8 L767.0,978.5 L768.2,979.0 L769.4,980.4 L770.6,980.2 L771.8,979.9 L773.0,980.5 L774.2,980.3 L775.4,981.1 L776.6,981.2 L777.8,980.9 L779.0,981.2 L780.2,981.3 L781.4,981.6 L782.6,981.8 L783.8,980.9 L785.0,981.3 L786.2,981.7 L787.4,981.4 L788.6,981.8 L789.8,981.4 L791.0,982.3 L792.2,982.0 L793.4,981.6 L794.6,982.2 L795.8,981.9 L797.0,981.8 L798.2,982.1 L799.4,981.8 L800.6,981.9 L801.8,982.6 L803.0,982.5 L804.2,981.7 L805.4,982.6 L806.6,981.7 L807.8,982.1 L809.0,982.7 L810.2,982.4 L811.4,982.0 L812.6,982.1 L813.8,982.1 L815.0,981.7 L816.2,982.6 L817.4,981.5 L818.6,981.9 L819.8,982.2 L821.0,981.7 L822.2,982.3 L823.4,981.4 L824.6,982.1 L825.8,981.9 L827.0,981.5 L828.2,981.7 L829.4,981.1 L830.6,981.4 L831.8,981.2 L833.0,980.8 L834.2,980.6 L835.4,980.7 L836.6,980.3 L837.8,979.8 L839.0,980.4 L840.2,979.7 L841.4,979.7 L842.6,979.8 L843.8,978.8 L845.0,978.3 L846.2,978.1 L847.4,978.3 L848.6,977.8 L849.8,977.5 L851.0,977.7 L852.2,978.4 L853.4,977.9 L854.6,978.5 L855.8,979.4 L857.0,979.5 L858.2,979.5 L859.4,979.9 L860.6,979.9 L861.8,979.6 L863.0,979.8 L864.2,979.7 L865.4,980.3 L866.6,979.8 L867.8,980.1 L869.0,980.5 L870.2,980.4 L871.4,979.8 L872.6,980.0 L873.8,979.7 L875.0,979.8 L876.2,979.9 L877.4,980.3 L878.6,980.4 L879.8,979.7 L881.0,979.4 L882.2,979.9 L883.4,979.4 L884.6,979.4 L885.8,980.3 L887.0,979.6 L888.2,980.3 L889.4,979.9 L890.6,980.6 L891.8,980.6 L893.0,979.7 L894.2,980.0 L895.4,980.8 L896.6,980.6 L897.8,980.4 L899.0,980.9 L900.2,981.0 L901.4,980.7 L902.6,980.8 L903.8,980.4 L905.0,980.8 L906.2,980.6 L907.4,981.2 L908.6,981.3 L909.8,980.9 L911.0,981.5 L912.2,980.9 L913.4,981.0 L914.6,981.6 L915.8,981.5 L917.0,982.0 L918.2,981.7 L919.4,981.8 L920.6,981.2 L921.8,981.9 L923.0,981.1 L924.2,981.6 L925.4,981.9 L926.6,981.9 L927.8,981.8 L929.0,981.2 L930.2,981.4 L931.4,981.4 L932.6,980.6 L933.8,981.4 L935.0,981.2 L936.2,980.5 L937.4,980.6 L938.6,980.0 L939.8,979.4 L941.0,979.4 L942.2,978.0 L943.4,977.7 L944.6,976.0 L945.8,971.7 L947.0,965.8 L948.2,953.9 L949.4,939.1 L950.6,920.5 L951.8,907.2 L953.0,905.3 L954.2,918.3 L955.4,935.3 L956.6,951.6 L957.8,964.2 L959.0,971.2 L960.2,975.1 L961.4,976.6 L962.6,978.0 L963.8,978.9 L965.0,979.1 L966.2,980.5 L967.4,980.6 L968.6,981.0 L969.8,980.9 L971.0,980.7 L972.2,980.5 L973.4,981.3 L974.6,980.8 L975.8,981.3 L977.0,981.3 L978.2,981.4 L979.4,981.0 L980.6,981.0 L981.8,981.5 L983.0,981.0 L984.2,981.6 L985.4,981.2 L986.6,981.3 L987.8,981.1 L989.0,981.5 L990.2,981.3 L991.4,981.1 L992.6,981.0 L993.8,981.3 L995.0,981.6 L996.2,981.0 L997.4,980.6 L998.6,980.7 L999.8,980.5 L1001.0,980.7 L1002.2,980.8 L1003.4,980.4 L1004.6,979.6 L1005.8,979.2 L1007.0,978.7 L1008.2,978.1 L1009.4,977.4 L1010.6,977.4 L1011.8,976.3 L1013.0,975.9 L1014.2,975.4 L1015.4,975.0 L1016.6,974.9 L1017.8,974.2 L1019.0,974.4 L1020.2,974.6 L1021.4,973.5 L1022.6,973.9 L1023.8,973.5 L1025.0,973.0 L1026.2,972.9 L1027.4,973.6 L1028.6,972.8 L1029.8,973.4 L1031.0,972.6 L1032.2,972.9 L1033.4,972.4 L1034.6,972.9 L1035.8,973.1 L1037.0,972.4 L1038.2,972.7 L1039.4,972.9 L1040.6,972.1 L1041.8,972.2 L1043.0,972.3 L1044.2,972.3 L1045.4,971.4 L1046.6,971.8 L1047.8,971.0 L1049.0,970.7 L1050.2,971.3 L1051.4,969.7 L1052.6,970.0 L1053.8,968.9 L1055.0,968.0 L1056.2,967.1 L1057.4,966.2 L1058.6,965.0 L1059.8,964.5 L1061.0,963.8 L1062.2,964.4 L1063.4,964.4 L1064.6,964.6 L1065.8,964.5 L1067.0,965.5 L1068.2,965.8 L1069.4,967.2 L1070.6,968.0 L1071.8,969.1 L1073.0,969.7 L1074.2,970.4 L1075.4,971.3 L1076.6,971.1 L1077.8,972.1 L1079.0,971.8 L1080.2,972.2 L1081.4,971.7 L1082.6,972.0 L1083.8,970.2 L1085.0,970.3 L1086.2,969.5 L1087.4,968.2 L1088.6,968.2 L1089.8,967.2 L1091.0,967.3 L1092.2,967.2 L1093.4,967.4 L1094.6,967.5 L1095.8,968.6 L1097.0,967.9 L1098.2,968.7 L1099.4,968.5 L1100.6,968.6 L1101.8,969.1 L1103.0,969.2 L1104.2,970.4 L1105.4,970.1 L1106.6,970.8 L1107.8,971.2 L1109.0,971.7 L1110.2,972.0 L1111.4,972.3 L1112.6,972.7 L1113.8,974.0 L1115.0,973.7 L1116.2,974.5 L1117.4,975.3 L1118.6,975.5 L1119.8,976.3 L1121.0,976.6 L1122.2,976.6 L1123.4,976.4 L1124.6,977.2 L1125.8,977.2 L1127.0,977.8 L1128.2,977.6 L1129.4,977.9 L1130.6,978.2 L1131.8,977.9 L1133.0,978.5 L1134.2,978.6 L1135.4,978.0 L1136.6,978.9 L1137.8,979.0 L1139.0,979.1 L1140.2,978.6 L1141.4,978.6 L1142.6,978.6 L1143.8,979.0 L1145.0,979.6 L1146.2,979.2 L1147.4,978.9 L1148.6,979.3 L1149.8,979.2 L1151.0,979.9 L1152.2,980.1 L1153.4,980.4 L1154.6,979.5 L1155.8,979.9 L1157.0,979.7 L1158.2,980.6 L1159.4,980.6 L1160.6,980.3 L1161.8,980.9 L1163.0,980.4 L1164.2,980.8 L1165.4,980.5 L1166.6,980.4 L1167.8,981.2 L1169.0,981.0 L1170.2,980.8 L1171.4,981.1 L1172.6,980.9 L1173.8,981.1 L1175.0,980.3 L1176.2,980.4 L1177.4,980.4 L1178.6,980.9 L1179.8,981.0 L1181.0,980.4 L1182.2,980.7 L1183.4,980.2 L1184.6,980.8 L1185.8,980.8 L1187.0,979.9 L1188.2,980.8 L1189.4,980.3 L1190.6,979.6 L1191.8,979.6 L1193.0,979.3 L1194.2,979.7 L1195.4,979.7 L1196.6,978.7 L1197.8,978.5 L1199.0,978.7 L1200.2,978.8 L1201.4,978.4 L1202.6,977.8 L1203.8,977.0 L1205.0,977.1 L1206.2,976.4 L1207.4,976.2 L1208.6,975.4 L1209.8,975.1 L1211.0,974.9 L1212.2,974.2 L1213.4,974.1 L1214.6,973.1 L1215.8,972.3 L1217.0,972.7 L1218.2,971.1 L1219.4,971.2 L1220.6,967.5 L1221.8,962.4 L1223.0,960.4 L1224.2,961.2 L1225.4,961.6 L1226.6,962.9 L1227.8,963.5 L1229.0,966.3 L1230.2,969.1 L1231.4,973.6 L1232.6,976.8 L1233.8,980.3 L1235.0,981.5 L1236.2,981.6 L1237.4,981.4 L1238.6,982.1 L1239.8,982.6 L1241.0,981.9 L1242.2,982.3 L1243.4,981.9 L1244.6,982.9 L1245.8,982.9 L1247.0,982.5 L1248.2,982.2 L1249.4,981.6 L1250.6,981.5 L1251.8,982.0 L1253.0,981.9 L1254.2,982.0 L1255.4,981.6 L1256.6,980.9 L1257.8,980.5 L1259.0,980.5 L1260.2,980.1 L1261.4,980.0 L1262.6,980.1 L1263.8,979.3 L1265.0,979.6 L1266.2,979.0 L1267.4,977.9 L1268.6,978.4 L1269.8,978.0 L1271.0,977.6 L1272.2,976.6 L1273.4,977.3 L1274.6,976.5 L1275.8,976.3 L1277.0,975.6 L1278.2,975.1 L1279.4,974.8 L1280.6,974.8 L1281.8,974.6" fill="none" stroke="#e4241f" stroke-width="3.6" stroke-linejoin="round" stroke-linecap="round"/>
<path d="M731.0,926.1 L732.2,926.8 L733.4,927.5 L734.6,928.3 L735.8,928.6 L737.0,929.4 L738.2,929.1 L739.4,930.1 L740.6,931.3 L741.8,931.5 L743.0,932.4 L744.2,932.1 L745.4,933.0 L746.6,933.3 L747.8,934.2 L749.0,934.8 L750.2,934.7 L751.4,935.6 L752.6,936.2 L753.8,937.6 L755.0,938.0 L756.2,938.0 L757.4,939.3 L758.6,939.1 L759.8,940.2 L761.0,940.1 L762.2,940.4 L763.4,941.7 L764.6,941.2 L765.8,941.5 L767.0,942.4 L768.2,942.3 L769.4,941.7 L770.6,942.4 L771.8,941.9 L773.0,942.1 L774.2,941.6 L775.4,942.4 L776.6,942.1 L777.8,942.4 L779.0,942.3 L780.2,941.7 L781.4,941.7 L782.6,941.5 L783.8,941.5 L785.0,941.4 L786.2,941.7 L787.4,942.0 L788.6,941.3 L789.8,942.1 L791.0,941.7 L792.2,941.7 L793.4,942.2 L794.6,941.9 L795.8,941.7 L797.0,941.9 L798.2,942.1 L799.4,941.4 L800.6,942.4 L801.8,941.4 L803.0,942.2 L804.2,942.3 L805.4,941.4 L806.6,942.2 L807.8,941.7 L809.0,942.0 L810.2,941.3 L811.4,941.4 L812.6,941.5 L813.8,942.4 L815.0,941.6 L816.2,942.2 L817.4,942.4 L818.6,942.4 L819.8,941.7 L821.0,941.7 L822.2,941.9 L823.4,942.2 L824.6,941.5 L825.8,942.2 L827.0,942.2 L828.2,942.3 L829.4,941.4 L830.6,942.4 L831.8,941.4 L833.0,941.7 L834.2,942.0 L835.4,942.3 L836.6,941.7 L837.8,942.3 L839.0,941.9 L840.2,941.7 L841.4,941.7 L842.6,941.5 L843.8,941.4 L845.0,941.5 L846.2,942.1 L847.4,942.4 L848.6,941.5 L849.8,941.4 L851.0,942.4 L852.2,941.9 L853.4,941.8 L854.6,941.6 L855.8,942.0 L857.0,942.2 L858.2,941.8 L859.4,941.8 L860.6,941.4 L861.8,942.3 L863.0,941.4 L864.2,941.9 L865.4,942.2 L866.6,941.5 L867.8,942.1 L869.0,942.4 L870.2,942.0 L871.4,942.2 L872.6,941.4 L873.8,941.8 L875.0,941.5 L876.2,942.2 L877.4,941.6 L878.6,941.8 L879.8,942.4 L881.0,942.2 L882.2,942.4 L883.4,941.8 L884.6,941.8 L885.8,942.1 L887.0,941.8 L888.2,941.7 L889.4,941.8 L890.6,941.5 L891.8,941.8 L893.0,942.5 L894.2,942.5 L895.4,942.2 L896.6,942.0 L897.8,941.9 L899.0,941.6 L900.2,941.9 L901.4,942.5 L902.6,942.6 L903.8,942.1 L905.0,942.6 L906.2,942.6 L907.4,942.5 L908.6,942.5 L909.8,942.7 L911.0,942.2 L912.2,942.6 L913.4,942.2 L914.6,942.4 L915.8,942.8 L917.0,942.7 L918.2,942.3 L919.4,943.0 L920.6,942.7 L921.8,942.6 L923.0,941.9 L924.2,942.5 L925.4,942.2 L926.6,942.6 L927.8,942.3 L929.0,942.7 L930.2,942.4 L931.4,942.5 L932.6,941.9 L933.8,942.2 L935.0,942.2 L936.2,942.2 L937.4,941.5 L938.6,941.8 L939.8,941.6 L941.0,941.1 L942.2,940.9 L943.4,940.1 L944.6,938.2 L945.8,935.6 L947.0,930.7 L948.2,924.4 L949.4,915.1 L950.6,904.1 L951.8,896.5 L953.0,895.8 L954.2,902.8 L955.4,912.5 L956.6,923.0 L957.8,930.2 L959.0,935.2 L960.2,937.7 L961.4,939.5 L962.6,940.6 L963.8,940.9 L965.0,941.4 L966.2,940.9 L967.4,941.2 L968.6,941.7 L969.8,942.1 L971.0,941.7 L972.2,942.3 L973.4,942.3 L974.6,941.7 L975.8,942.3 L977.0,942.0 L978.2,941.9 L979.4,942.0 L980.6,942.2 L981.8,942.1 L983.0,942.1 L984.2,942.0 L985.4,942.4 L986.6,942.3 L987.8,942.5 L989.0,942.5 L990.2,942.0 L991.4,942.7 L992.6,941.7 L993.8,942.1 L995.0,941.9 L996.2,941.9 L997.4,941.5 L998.6,942.2 L999.8,941.6 L1001.0,941.2 L1002.2,941.7 L1003.4,940.9 L1004.6,941.2 L1005.8,940.6 L1007.0,940.5 L1008.2,940.4 L1009.4,939.8 L1010.6,938.9 L1011.8,938.8 L1013.0,938.2 L1014.2,937.4 L1015.4,936.8 L1016.6,937.1 L1017.8,936.9 L1019.0,937.2 L1020.2,937.3 L1021.4,936.9 L1022.6,936.7 L1023.8,937.3 L1025.0,936.4 L1026.2,936.6 L1027.4,937.2 L1028.6,937.4 L1029.8,937.0 L1031.0,937.6 L1032.2,938.0 L1033.4,937.5 L1034.6,937.6 L1035.8,937.4 L1037.0,937.5 L1038.2,938.3 L1039.4,937.6 L1040.6,938.2 L1041.8,938.2 L1043.0,937.8 L1044.2,937.3 L1045.4,938.1 L1046.6,937.5 L1047.8,937.3 L1049.0,937.1 L1050.2,937.8 L1051.4,937.2 L1052.6,936.9 L1053.8,937.0 L1055.0,936.6 L1056.2,937.1 L1057.4,936.8 L1058.6,936.6 L1059.8,937.1 L1061.0,937.1 L1062.2,936.2 L1063.4,936.8 L1064.6,936.7 L1065.8,937.5 L1067.0,937.6 L1068.2,937.3 L1069.4,937.6 L1070.6,937.7 L1071.8,939.0 L1073.0,938.5 L1074.2,939.1 L1075.4,939.2 L1076.6,939.6 L1077.8,939.7 L1079.0,939.9 L1080.2,939.3 L1081.4,939.9 L1082.6,939.3 L1083.8,939.5 L1085.0,939.1 L1086.2,938.9 L1087.4,939.0 L1088.6,938.8 L1089.8,938.4 L1091.0,938.7 L1092.2,938.3 L1093.4,937.5 L1094.6,937.5 L1095.8,937.5 L1097.0,937.8 L1098.2,937.6 L1099.4,937.1 L1100.6,936.4 L1101.8,937.2 L1103.0,936.7 L1104.2,936.9 L1105.4,937.1 L1106.6,937.3 L1107.8,937.6 L1109.0,938.6 L1110.2,938.7 L1111.4,939.3 L1112.6,940.4 L1113.8,940.3 L1115.0,940.9 L1116.2,941.8 L1117.4,941.1 L1118.6,942.0 L1119.8,941.9 L1121.0,941.7 L1122.2,941.6 L1123.4,942.2 L1124.6,942.3 L1125.8,941.5 L1127.0,942.0 L1128.2,942.1 L1129.4,942.1 L1130.6,941.9 L1131.8,941.7 L1133.0,942.3 L1134.2,942.5 L1135.4,941.7 L1136.6,942.0 L1137.8,942.6 L1139.0,942.6 L1140.2,942.5 L1141.4,941.8 L1142.6,942.6 L1143.8,942.9 L1145.0,942.9 L1146.2,942.6 L1147.4,941.9 L1148.6,942.8 L1149.8,942.1 L1151.0,942.6 L1152.2,943.0 L1153.4,942.7 L1154.6,942.1 L1155.8,942.3 L1157.0,942.9 L1158.2,942.1 L1159.4,942.6 L1160.6,942.4 L1161.8,942.1 L1163.0,942.6 L1164.2,942.0 L1165.4,942.0 L1166.6,942.3 L1167.8,941.9 L1169.0,941.9 L1170.2,942.4 L1171.4,942.5 L1172.6,942.6 L1173.8,941.8 L1175.0,942.0 L1176.2,941.9 L1177.4,942.1 L1178.6,941.9 L1179.8,942.4 L1181.0,941.7 L1182.2,941.3 L1183.4,941.9 L1184.6,941.2 L1185.8,941.7 L1187.0,941.4 L1188.2,941.7 L1189.4,941.1 L1190.6,941.0 L1191.8,940.3 L1193.0,940.4 L1194.2,939.8 L1195.4,940.0 L1196.6,939.4 L1197.8,938.7 L1199.0,938.4 L1200.2,938.2 L1201.4,938.3 L1202.6,937.3 L1203.8,937.5 L1205.0,937.1 L1206.2,936.1 L1207.4,936.3 L1208.6,935.4 L1209.8,935.1 L1211.0,935.2 L1212.2,934.5 L1213.4,934.9 L1214.6,934.2 L1215.8,933.8 L1217.0,934.1 L1218.2,933.0 L1219.4,933.6 L1220.6,932.7 L1221.8,932.7 L1223.0,933.5 L1224.2,933.2 L1225.4,932.8 L1226.6,933.4 L1227.8,935.4 L1229.0,936.5 L1230.2,938.1 L1231.4,938.8 L1232.6,940.5 L1233.8,941.1 L1235.0,941.3 L1236.2,941.4 L1237.4,941.8 L1238.6,941.5 L1239.8,941.6 L1241.0,941.3 L1242.2,942.1 L1243.4,941.9 L1244.6,942.1 L1245.8,941.7 L1247.0,942.2 L1248.2,941.8 L1249.4,941.9 L1250.6,941.9 L1251.8,942.1 L1253.0,941.7 L1254.2,941.4 L1255.4,941.3 L1256.6,941.5 L1257.8,941.4 L1259.0,942.3 L1260.2,941.9 L1261.4,942.2 L1262.6,941.3 L1263.8,941.9 L1265.0,942.3 L1266.2,942.0 L1267.4,941.8 L1268.6,941.9 L1269.8,941.5 L1271.0,941.5 L1272.2,941.6 L1273.4,941.8 L1274.6,941.8 L1275.8,942.4 L1277.0,941.6 L1278.2,941.7 L1279.4,941.7 L1280.6,941.6 L1281.8,941.8" fill="none" stroke="#7e1c88" stroke-width="3.6" stroke-linejoin="round" stroke-linecap="round"/>
<path d="M731.0,889.9 L732.2,891.1 L733.4,890.6 L734.6,891.6 L735.8,891.4 L737.0,891.9 L738.2,893.2 L739.4,892.7 L740.6,893.6 L741.8,893.8 L743.0,894.2 L744.2,894.6 L745.4,894.7 L746.6,895.8 L747.8,895.5 L749.0,896.1 L750.2,896.4 L751.4,897.2 L752.6,897.9 L753.8,899.1 L755.0,899.1 L756.2,899.4 L757.4,900.1 L758.6,901.4 L759.8,900.9 L761.0,901.9 L762.2,902.0 L763.4,902.5 L764.6,902.3 L765.8,902.7 L767.0,902.5 L768.2,902.6 L769.4,902.9 L770.6,902.5 L771.8,901.9 L773.0,901.8 L774.2,902.7 L775.4,902.1 L776.6,901.7 L777.8,902.5 L779.0,902.0 L780.2,902.1 L781.4,902.2 L782.6,901.5 L783.8,901.5 L785.0,902.0 L786.2,901.1 L787.4,901.8 L788.6,901.0 L789.8,901.6 L791.0,901.6 L792.2,901.9 L793.4,901.8 L794.6,901.4 L795.8,901.1 L797.0,901.0 L798.2,901.4 L799.4,901.4 L800.6,901.0 L801.8,901.9 L803.0,901.5 L804.2,901.7 L805.4,901.2 L806.6,901.2 L807.8,900.9 L809.0,901.3 L810.2,901.3 L811.4,901.4 L812.6,901.4 L813.8,901.9 L815.0,902.0 L816.2,901.2 L817.4,901.5 L818.6,901.3 L819.8,901.8 L821.0,902.2 L822.2,901.4 L823.4,902.0 L824.6,901.5 L825.8,901.2 L827.0,902.1 L828.2,901.6 L829.4,901.4 L830.6,901.8 L831.8,901.6 L833.0,901.8 L834.2,901.8 L835.4,901.8 L836.6,902.0 L837.8,901.7 L839.0,901.5 L840.2,901.5 L841.4,901.6 L842.6,902.1 L843.8,901.9 L845.0,902.4 L846.2,902.1 L847.4,902.4 L848.6,902.7 L849.8,901.7 L851.0,901.7 L852.2,901.8 L853.4,902.1 L854.6,902.3 L855.8,902.5 L857.0,902.1 L858.2,902.8 L859.4,901.8 L860.6,902.7 L861.8,902.0 L863.0,902.8 L864.2,901.9 L865.4,902.9 L866.6,902.7 L867.8,903.0 L869.0,902.5 L870.2,902.1 L871.4,903.0 L872.6,902.4 L873.8,902.0 L875.0,902.6 L876.2,902.5 L877.4,902.4 L878.6,902.1 L879.8,902.1 L881.0,902.6 L882.2,902.4 L883.4,902.1 L884.6,902.4 L885.8,902.7 L887.0,902.7 L888.2,902.4 L889.4,902.3 L890.6,902.3 L891.8,902.1 L893.0,902.1 L894.2,902.3 L895.4,901.9 L896.6,902.6 L897.8,902.5 L899.0,902.4 L900.2,901.7 L901.4,902.1 L902.6,902.1 L903.8,901.7 L905.0,902.7 L906.2,902.4 L907.4,902.1 L908.6,902.3 L909.8,901.7 L911.0,901.7 L912.2,902.0 L913.4,902.2 L914.6,902.0 L915.8,901.3 L917.0,901.9 L918.2,902.2 L919.4,902.0 L920.6,902.2 L921.8,902.2 L923.0,901.3 L924.2,901.4 L925.4,901.6 L926.6,902.0 L927.8,901.3 L929.0,901.9 L930.2,901.8 L931.4,901.4 L932.6,901.5 L933.8,901.8 L935.0,901.6 L936.2,901.0 L937.4,901.5 L938.6,900.8 L939.8,900.9 L941.0,901.4 L942.2,901.2 L943.4,900.4 L944.6,900.1 L945.8,900.0 L947.0,899.2 L948.2,897.0 L949.4,894.0 L950.6,889.5 L951.8,886.0 L953.0,885.6 L954.2,888.8 L955.4,893.4 L956.6,897.2 L957.8,899.6 L959.0,901.3 L960.2,901.2 L961.4,901.3 L962.6,902.2 L963.8,901.8 L965.0,902.1 L966.2,901.8 L967.4,902.6 L968.6,902.0 L969.8,902.1 L971.0,902.7 L972.2,902.3 L973.4,902.1 L974.6,902.7 L975.8,902.2 L977.0,902.1 L978.2,902.8 L979.4,902.6 L980.6,902.5 L981.8,901.9 L983.0,902.5 L984.2,902.2 L985.4,902.5 L986.6,901.9 L987.8,902.3 L989.0,902.3 L990.2,901.8 L991.4,902.1 L992.6,902.1 L993.8,902.3 L995.0,902.2 L996.2,902.0 L997.4,901.2 L998.6,901.7 L999.8,901.7 L1001.0,901.0 L1002.2,901.3 L1003.4,901.6 L1004.6,901.4 L1005.8,901.1 L1007.0,899.9 L1008.2,900.0 L1009.4,899.9 L1010.6,899.2 L1011.8,898.4 L1013.0,897.7 L1014.2,898.2 L1015.4,897.9 L1016.6,897.4 L1017.8,896.9 L1019.0,897.3 L1020.2,897.3 L1021.4,897.2 L1022.6,897.1 L1023.8,896.8 L1025.0,896.8 L1026.2,896.9 L1027.4,896.9 L1028.6,897.1 L1029.8,896.7 L1031.0,897.4 L1032.2,897.0 L1033.4,896.8 L1034.6,897.0 L1035.8,897.2 L1037.0,897.3 L1038.2,897.7 L1039.4,897.0 L1040.6,897.2 L1041.8,897.3 L1043.0,897.2 L1044.2,897.9 L1045.4,897.2 L1046.6,897.2 L1047.8,897.8 L1049.0,898.1 L1050.2,898.2 L1051.4,898.0 L1052.6,897.8 L1053.8,898.5 L1055.0,898.4 L1056.2,898.1 L1057.4,898.3 L1058.6,898.7 L1059.8,898.9 L1061.0,898.9 L1062.2,898.0 L1063.4,898.3 L1064.6,898.4 L1065.8,898.2 L1067.0,898.9 L1068.2,898.2 L1069.4,899.2 L1070.6,898.9 L1071.8,899.0 L1073.0,898.8 L1074.2,899.4 L1075.4,899.1 L1076.6,899.5 L1077.8,899.5 L1079.0,899.3 L1080.2,899.7 L1081.4,899.2 L1082.6,899.1 L1083.8,899.6 L1085.0,899.3 L1086.2,899.1 L1087.4,899.6 L1088.6,899.4 L1089.8,899.1 L1091.0,899.9 L1092.2,899.6 L1093.4,900.1 L1094.6,899.7 L1095.8,900.2 L1097.0,899.5 L1098.2,899.4 L1099.4,899.8 L1100.6,900.1 L1101.8,900.2 L1103.0,900.1 L1104.2,899.5 L1105.4,899.9 L1106.6,899.5 L1107.8,899.9 L1109.0,900.6 L1110.2,900.0 L1111.4,900.4 L1112.6,900.4 L1113.8,899.9 L1115.0,900.5 L1116.2,899.9 L1117.4,900.0 L1118.6,900.5 L1119.8,900.1 L1121.0,901.0 L1122.2,900.5 L1123.4,900.7 L1124.6,901.1 L1125.8,900.2 L1127.0,901.3 L1128.2,900.2 L1129.4,900.9 L1130.6,901.0 L1131.8,901.4 L1133.0,900.8 L1134.2,901.4 L1135.4,901.2 L1136.6,901.0 L1137.8,900.7 L1139.0,900.8 L1140.2,901.0 L1141.4,901.0 L1142.6,901.1 L1143.8,901.6 L1145.0,901.2 L1146.2,901.5 L1147.4,900.9 L1148.6,901.0 L1149.8,901.7 L1151.0,901.9 L1152.2,901.3 L1153.4,901.1 L1154.6,901.3 L1155.8,901.5 L1157.0,901.6 L1158.2,901.8 L1159.4,901.6 L1160.6,902.0 L1161.8,902.2 L1163.0,902.2 L1164.2,902.2 L1165.4,902.1 L1166.6,901.8 L1167.8,902.5 L1169.0,901.9 L1170.2,902.6 L1171.4,902.2 L1172.6,902.4 L1173.8,902.4 L1175.0,902.6 L1176.2,902.3 L1177.4,902.6 L1178.6,902.8 L1179.8,902.5 L1181.0,902.8 L1182.2,902.7 L1183.4,902.7 L1184.6,902.7 L1185.8,902.9 L1187.0,903.1 L1188.2,902.5 L1189.4,902.5 L1190.6,903.3 L1191.8,902.5 L1193.0,903.3 L1194.2,903.3 L1195.4,902.7 L1196.6,903.1 L1197.8,902.7 L1199.0,903.4 L1200.2,902.7 L1201.4,902.6 L1202.6,902.5 L1203.8,903.2 L1205.0,902.7 L1206.2,902.8 L1207.4,903.5 L1208.6,903.3 L1209.8,903.3 L1211.0,903.1 L1212.2,903.2 L1213.4,902.5 L1214.6,903.3 L1215.8,902.8 L1217.0,903.4 L1218.2,902.9 L1219.4,903.5 L1220.6,902.4 L1221.8,903.5 L1223.0,902.6 L1224.2,903.0 L1225.4,903.0 L1226.6,903.5 L1227.8,903.2 L1229.0,903.5 L1230.2,903.4 L1231.4,902.9 L1232.6,902.6 L1233.8,902.6 L1235.0,903.2 L1236.2,903.5 L1237.4,903.2 L1238.6,902.8 L1239.8,903.1 L1241.0,903.1 L1242.2,902.7 L1243.4,903.1 L1244.6,902.5 L1245.8,902.2 L1247.0,902.2 L1248.2,902.5 L1249.4,902.6 L1250.6,902.0 L1251.8,902.0 L1253.0,902.2 L1254.2,901.6 L1255.4,901.7 L1256.6,901.6 L1257.8,901.2 L1259.0,900.8 L1260.2,901.1 L1261.4,900.9 L1262.6,900.1 L1263.8,900.6 L1265.0,900.2 L1266.2,900.2 L1267.4,899.9 L1268.6,899.4 L1269.8,899.4 L1271.0,898.8 L1272.2,898.9 L1273.4,898.1 L1274.6,898.2 L1275.8,898.1 L1277.0,898.3 L1278.2,897.9 L1279.4,898.0 L1280.6,897.7 L1281.8,897.7" fill="none" stroke="#80791a" stroke-width="3.6" stroke-linejoin="round" stroke-linecap="round"/>
<rect x="730.6" y="744.3" width="552.4" height="435.70000000000005" fill="none" stroke="#3a3a3a" stroke-width="1.5"/>
<line x1="798.5" y1="1180.0" x2="798.5" y2="1187.0" stroke="#3a3a3a" stroke-width="1.5"/>
<text transform="translate(798.5,1213.5) scale(1.200,1)" font-size="18.5" fill="#1a1a1a" text-anchor="middle" >500</text>
<line x1="933.2" y1="1180.0" x2="933.2" y2="1187.0" stroke="#3a3a3a" stroke-width="1.5"/>
<text transform="translate(933.2,1213.5) scale(1.200,1)" font-size="18.5" fill="#1a1a1a" text-anchor="middle" >1,000</text>
<line x1="1068.0" y1="1180.0" x2="1068.0" y2="1187.0" stroke="#3a3a3a" stroke-width="1.5"/>
<text transform="translate(1068.0,1213.5) scale(1.200,1)" font-size="18.5" fill="#1a1a1a" text-anchor="middle" >1,500</text>
<line x1="1202.8" y1="1180.0" x2="1202.8" y2="1187.0" stroke="#3a3a3a" stroke-width="1.5"/>
<text transform="translate(1202.8,1213.5) scale(1.200,1)" font-size="18.5" fill="#1a1a1a" text-anchor="middle" >2,000</text>
<text transform="translate(1007.0,1258.0) scale(1.120,1)" font-size="21" fill="#1a1a1a" text-anchor="middle" >Raman shift (cm<tspan font-size="13" dy="-9">−1</tspan><tspan dy="9">)</tspan></text>
<text transform="translate(717.0,961.5) rotate(-90) scale(1.180,1)" font-size="20" fill="#1a1a1a" text-anchor="middle" >Intensity (a.u.)</text>
<text transform="translate(1293.0,906.8) scale(1.130,1)" font-size="20" fill="#1a1a1a" text-anchor="start" >−0.5 V</text>
<text transform="translate(1293.0,947.3) scale(1.130,1)" font-size="20" fill="#1a1a1a" text-anchor="start" >−0.4 V</text>
<text transform="translate(1293.0,988.3) scale(1.130,1)" font-size="20" fill="#1a1a1a" text-anchor="start" >−0.3 V</text>
<text transform="translate(1293.0,1028.8) scale(1.130,1)" font-size="20" fill="#1a1a1a" text-anchor="start" >−0.2 V</text>
<text transform="translate(1293.0,1069.3) scale(1.130,1)" font-size="20" fill="#1a1a1a" text-anchor="start" >−0.1 V</text>
<text transform="translate(1293.0,1108.3) scale(1.130,1)" font-size="20" fill="#1a1a1a" text-anchor="start" >0 V</text>
<text transform="translate(1293.0,1147.3) scale(1.130,1)" font-size="20" fill="#1a1a1a" text-anchor="start" >OCP</text>
<text transform="translate(774.4,733.0) rotate(-90) scale(1.010,1)" font-size="22.5" fill="#1a1a1a" text-anchor="start" >Cu<tspan font-size="15" dy="5">94</tspan><tspan dy="-5">Pd</tspan><tspan font-size="15" dy="5">6</tspan><tspan dy="-5">-CO</tspan></text>
<text transform="translate(826.0,733.0) rotate(-90) scale(0.960,1)" font-size="22.5" fill="#1a1a1a" text-anchor="start" >Cu<tspan font-size="15" dy="5" font-style="italic">x</tspan><tspan dy="-5">O</tspan></text>
<text transform="translate(946.5,733.0) rotate(-90) scale(0.970,1)" font-size="22.5" fill="#1a1a1a" text-anchor="start" >HCO<tspan font-size="15" dy="5">3</tspan><tspan font-size="15" dy="-16" dx="-1">−</tspan></text>
<text transform="translate(979.0,733.0) rotate(-90) scale(0.970,1)" font-size="22.5" fill="#1a1a1a" text-anchor="start" >CO<tspan font-size="15" dy="5">3</tspan><tspan font-size="14" dy="-15" dx="-1">2−</tspan></text>
<text transform="translate(1069.6,733.0) rotate(-90) scale(0.930,1)" font-size="22.5" fill="#1a1a1a" text-anchor="start" >OCO<tspan font-size="14" dy="-10">−</tspan></text>
<text transform="translate(1224.2,733.0) rotate(-90) scale(0.950,1)" font-size="22.5" fill="#1a1a1a" text-anchor="start" >C≡O</text>
<rect x="1357" y="0" width="3" height="1268" fill="#f6f7f3"/>
<rect x="0" y="0" width="1360" height="3" fill="#f6f6f8"/>
</svg></body></html>
